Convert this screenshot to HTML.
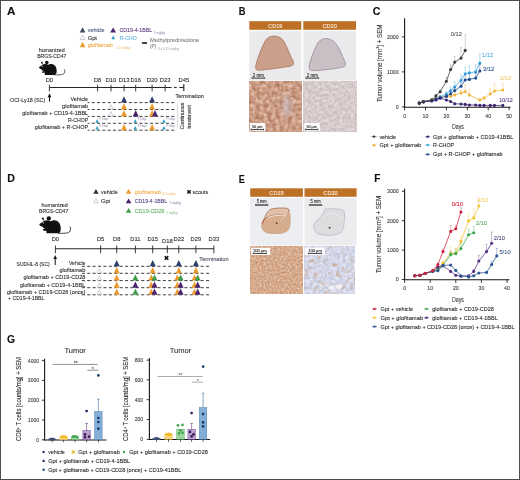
<!DOCTYPE html>
<html><head><meta charset="utf-8"><title>Figure</title>
<style>
html,body{margin:0;padding:0;background:#fff;}
body{width:520px;height:480px;overflow:hidden;}
#fig{position:absolute;left:0;top:0;width:520px;height:480px;box-sizing:border-box;border:1px solid #4d4d4d;}
svg{position:absolute;left:0;top:0;}
svg text{font-family:'Liberation Sans', Arial, sans-serif;stroke:currentColor;stroke-width:0.1px;}
</style></head><body>
<div id="fig"></div>
<svg width="520" height="480" viewBox="0 0 520 480">
<defs><filter id="n1" x="0" y="0" width="1" height="1" color-interpolation-filters="sRGB"><feTurbulence type="fractalNoise" baseFrequency="0.25" numOctaves="3" seed="3"/><feColorMatrix type="matrix" values="0.3765 0 0 0 0.6039  0.4941 0 0 0 0.3647  0.5412 0 0 0 0.2471  0 0 0 0 1"/></filter><filter id="n2" x="0" y="0" width="1" height="1" color-interpolation-filters="sRGB"><feTurbulence type="fractalNoise" baseFrequency="0.35" numOctaves="3" seed="5"/><feColorMatrix type="matrix" values="0.2345 0 0 0 0.7259  0.2549 0 0 0 0.6686  0.2345 0 0 0 0.6788  0 0 0 0 1"/></filter><filter id="n3" x="0" y="0" width="1" height="1" color-interpolation-filters="sRGB"><feTurbulence type="fractalNoise" baseFrequency="0.5" numOctaves="3" seed="7"/><feColorMatrix type="matrix" values="0.2635 0 0 0 0.7075  0.4141 0 0 0 0.4596  0.4706 0 0 0 0.3137  0 0 0 0 1"/></filter><filter id="n4" x="0" y="0" width="1" height="1" color-interpolation-filters="sRGB"><feTurbulence type="fractalNoise" baseFrequency="0.3" numOctaves="3" seed="9" result="t1"/><feColorMatrix in="t1" type="matrix" values="0.2416 0 0 0 0.7106  0.2525 0 0 0 0.7169  0.2306 0 0 0 0.7906  0 0 0 0 1" result="base"/><feTurbulence type="fractalNoise" baseFrequency="0.22" numOctaves="2" seed="21" result="t2"/><feColorMatrix in="t2" type="matrix" values="0 0 0 0 0.8000  0 0 0 0 0.6275  0 0 0 0 0.5020  3.2000 0 0 0 -1.8560" result="spots"/><feComposite in="spots" in2="base" operator="over"/></filter><filter id="b2" x="-0.5" y="-0.5" width="2" height="2"><feGaussianBlur stdDeviation="2"/></filter></defs>
<text x="6.9" y="14.9" font-size="11.4" fill="#111" color="#111" textLength="8.4" lengthAdjust="spacingAndGlyphs" font-weight="bold">A</text>
<text x="238.7" y="14.9" font-size="11.4" fill="#111" color="#111" textLength="6.7" lengthAdjust="spacingAndGlyphs" font-weight="bold">B</text>
<text x="372.7" y="14.7" font-size="11.4" fill="#111" color="#111" textLength="7.7" lengthAdjust="spacingAndGlyphs" font-weight="bold">C</text>
<text x="7.3" y="182.4" font-size="11.4" fill="#111" color="#111" textLength="7.7" lengthAdjust="spacingAndGlyphs" font-weight="bold">D</text>
<text x="238.7" y="182.6" font-size="11.4" fill="#111" color="#111" textLength="6.1" lengthAdjust="spacingAndGlyphs" font-weight="bold">E</text>
<text x="374.2" y="182.4" font-size="11.4" fill="#111" color="#111" textLength="6.2" lengthAdjust="spacingAndGlyphs" font-weight="bold">F</text>
<text x="7.1" y="342.5" font-size="11.4" fill="#111" color="#111" textLength="8.1" lengthAdjust="spacingAndGlyphs" font-weight="bold">G</text>
<polygon points="79.8,32.6 85.4,32.6 82.6,27.2" fill="#3b4760"/>
<text x="87.7" y="32.19" font-size="5.8" fill="#4a5678" color="#4a5678" textLength="16.9" lengthAdjust="spacingAndGlyphs">vehicle</text>
<polygon points="80.2,39.5 85,39.5 82.6,35.1" fill="#fff" stroke="#9aa0a8" stroke-width="0.5" stroke-linejoin="round"/>
<text x="87.7" y="39.79" font-size="5.8" fill="#2e2e2e" color="#2e2e2e" textLength="9.2" lengthAdjust="spacingAndGlyphs">Gpt</text>
<polygon points="79.8,47.2 85.4,47.2 82.6,41.7" fill="#eb9b2d"/>
<text x="87.7" y="47.19" font-size="5.8" fill="#f2aa48" color="#f2aa48" textLength="25.2" lengthAdjust="spacingAndGlyphs">glofitamab</text>
<text x="116.2" y="49.4" font-size="2.6" fill="#f6cc96" color="#f6cc96" textLength="14" lengthAdjust="spacingAndGlyphs">1.5 mg/kg</text>
<polygon points="110.2,32.4 116,32.4 113.1,27.5" fill="#4b2270"/>
<text x="119.4" y="32.19" font-size="5.8" fill="#5a4084" color="#5a4084" textLength="32.9" lengthAdjust="spacingAndGlyphs">CD19-4-1BBL</text>
<text x="154.1" y="33.6" font-size="2.6" fill="#b0a4c0" color="#b0a4c0" textLength="10.8" lengthAdjust="spacingAndGlyphs">1 mg/kg</text>
<polygon points="111.3,39.3 115.1,39.3 113.2,35.6" fill="#2b9dc6"/>
<text x="119.8" y="39.79" font-size="5.8" fill="#62b6e0" color="#62b6e0" textLength="16.9" lengthAdjust="spacingAndGlyphs">R-CHO</text>
<rect x="141.9" y="41.9" width="5.2" height="2" fill="#444" rx="0.6"/>
<text x="150.1" y="41.99" font-size="5.8" fill="#858585" color="#858585" textLength="49.1" lengthAdjust="spacingAndGlyphs">Methylprednisolone</text>
<text x="150" y="47.99" font-size="5.8" fill="#858585" color="#858585" textLength="6.4" lengthAdjust="spacingAndGlyphs">(P)</text>
<text x="158" y="50" font-size="2.6" fill="#bdbdbd" color="#bdbdbd" textLength="21" lengthAdjust="spacingAndGlyphs">3 x 0.15 mg/kg</text>
<text x="38.7" y="52.29" font-size="5.8" fill="#2e2e2e" color="#2e2e2e" textLength="26.1" lengthAdjust="spacingAndGlyphs">humanized</text>
<text x="37.2" y="58.29" font-size="5.8" fill="#2e2e2e" color="#2e2e2e" textLength="29.1" lengthAdjust="spacingAndGlyphs">BRGS-CD47</text>
<g fill="#111" transform="translate(38.7 61.3) scale(1) translate(-38.7 -61.3)"><path d="M45.0,74.9 C44.0,70.5 45.6,65.0 50.4,64.1 C54.8,63.4 56.9,67.6 56.7,71.2 C56.6,73.4 55.9,74.9 54.2,74.9 Z"/><path d="M48.4,64.8 C46.2,63.3 43.2,64.1 41.6,65.5 C40.6,66.3 39.1,66.8 39.0,67.6 C38.9,68.5 40.3,69.1 41.3,69.3 C42.3,70.7 44.0,71.9 46.6,71.7 C47.8,70.2 48.8,67.4 48.4,64.8 Z"/><circle cx="46.8" cy="62.5" r="1.8"/><circle cx="41.9" cy="62.7" r="0.85"/><path d="M41.9,62.8 L43.6,65.6" stroke="#111" stroke-width="0.6" fill="none"/><ellipse cx="43.6" cy="72.0" rx="1.7" ry="0.85"/><path d="M54.5,74.8 C58.5,75.0 62.4,74.9 63.8,73.8 C64.8,72.9 64.9,70.8 64.5,69.3" stroke="#111" stroke-width="0.65" fill="none"/><circle cx="42.3" cy="66.3" r="0.5" fill="#fff"/></g>
<line x1="49.4" y1="87.5" x2="171.6" y2="87.5" stroke="#262626" stroke-width="1.1"/>
<line x1="49.4" y1="84.7" x2="49.4" y2="91.4" stroke="#262626" stroke-width="0.9"/>
<text x="49.4" y="82.39" font-size="5.8" fill="#2e2e2e" color="#2e2e2e" text-anchor="middle">D0</text>
<line x1="97.6" y1="84.7" x2="97.6" y2="91.4" stroke="#262626" stroke-width="0.9"/>
<text x="97.6" y="82.39" font-size="5.8" fill="#2e2e2e" color="#2e2e2e" text-anchor="middle">D8</text>
<line x1="111" y1="84.7" x2="111" y2="91.4" stroke="#262626" stroke-width="0.9"/>
<text x="111" y="82.39" font-size="5.8" fill="#2e2e2e" color="#2e2e2e" text-anchor="middle">D10</text>
<line x1="124.1" y1="84.7" x2="124.1" y2="91.4" stroke="#262626" stroke-width="0.9"/>
<text x="124.1" y="82.39" font-size="5.8" fill="#2e2e2e" color="#2e2e2e" text-anchor="middle">D13</text>
<line x1="135.7" y1="84.7" x2="135.7" y2="91.4" stroke="#262626" stroke-width="0.9"/>
<text x="135.7" y="82.39" font-size="5.8" fill="#2e2e2e" color="#2e2e2e" text-anchor="middle">D16</text>
<line x1="152.1" y1="84.7" x2="152.1" y2="91.4" stroke="#262626" stroke-width="0.9"/>
<text x="152.1" y="82.39" font-size="5.8" fill="#2e2e2e" color="#2e2e2e" text-anchor="middle">D20</text>
<line x1="165.1" y1="84.7" x2="165.1" y2="91.4" stroke="#262626" stroke-width="0.9"/>
<text x="165.1" y="82.39" font-size="5.8" fill="#2e2e2e" color="#2e2e2e" text-anchor="middle">D23</text>
<line x1="174.1" y1="87.5" x2="176.7" y2="87.5" stroke="#262626" stroke-width="1.1"/>
<line x1="179.3" y1="87.5" x2="183.6" y2="87.5" stroke="#262626" stroke-width="1.1"/>
<line x1="183.8" y1="84.3" x2="183.8" y2="91" stroke="#262626" stroke-width="1.2"/>
<text x="183.8" y="82.39" font-size="5.8" fill="#2e2e2e" color="#2e2e2e" text-anchor="middle">D45</text>
<text x="175.5" y="97.79" font-size="5.8" fill="#2e2e2e" color="#2e2e2e" textLength="28.2" lengthAdjust="spacingAndGlyphs">Termination</text>
<line x1="49.5" y1="96" x2="49.5" y2="101.6" stroke="#111" stroke-width="1"/>
<polygon points="47.7,97.2 51.3,97.2 49.5,93.2" fill="#111"/>
<text x="10" y="101.79" font-size="5.8" fill="#2e2e2e" color="#2e2e2e" textLength="35.2" lengthAdjust="spacingAndGlyphs">OCI-Ly18 (SC)</text>
<text x="88.2" y="101.49" font-size="5.8" fill="#2e2e2e" color="#2e2e2e" text-anchor="end" textLength="17.8" lengthAdjust="spacingAndGlyphs">Vehicle</text>
<line x1="87.6" y1="102.6" x2="176.3" y2="102.6" stroke="#3a3a3a" stroke-width="0.95" stroke-dasharray="3.1 2.2" stroke-dashoffset="1.2"/>
<text x="88.2" y="108.39" font-size="5.8" fill="#2e2e2e" color="#2e2e2e" text-anchor="end" textLength="26.1" lengthAdjust="spacingAndGlyphs">glofitamab</text>
<line x1="87.6" y1="109.5" x2="176.3" y2="109.5" stroke="#3a3a3a" stroke-width="0.95" stroke-dasharray="3.1 2.2" stroke-dashoffset="1.2"/>
<text x="88.2" y="115.29" font-size="5.8" fill="#2e2e2e" color="#2e2e2e" text-anchor="end" textLength="65.9" lengthAdjust="spacingAndGlyphs">glofitamab + CD19-4-1BBL</text>
<line x1="87.6" y1="116.4" x2="176.3" y2="116.4" stroke="#3a3a3a" stroke-width="0.95" stroke-dasharray="3.1 2.2" stroke-dashoffset="1.2"/>
<text x="88.2" y="122.19" font-size="5.8" fill="#2e2e2e" color="#2e2e2e" text-anchor="end" textLength="20.3" lengthAdjust="spacingAndGlyphs">R-CHOP</text>
<line x1="87.6" y1="123.3" x2="176.3" y2="123.3" stroke="#3a3a3a" stroke-width="0.95" stroke-dasharray="3.1 2.2" stroke-dashoffset="1.2"/>
<text x="88.2" y="129.09" font-size="5.8" fill="#2e2e2e" color="#2e2e2e" text-anchor="end" textLength="53.4" lengthAdjust="spacingAndGlyphs">glofitamab + R-CHOP</text>
<line x1="87.6" y1="130.2" x2="176.3" y2="130.2" stroke="#3a3a3a" stroke-width="0.95" stroke-dasharray="3.1 2.2" stroke-dashoffset="1.2"/>
<line x1="177.6" y1="102.8" x2="177.6" y2="129" stroke="#bbb" stroke-width="0.5"/>
<text x="184" y="116" font-size="5.8" fill="#2e2e2e" color="#2e2e2e" text-anchor="middle" textLength="27" lengthAdjust="spacingAndGlyphs" transform="rotate(-90 184 116)">Continuous</text>
<text x="190.7" y="117" font-size="5.8" fill="#2e2e2e" color="#2e2e2e" text-anchor="middle" textLength="23.7" lengthAdjust="spacingAndGlyphs" transform="rotate(-90 190.7 117)">treatment</text>
<polygon points="121,102.6 127,102.6 124,96.3" fill="#2f3e6a"/>
<polygon points="149.1,102.6 155.1,102.6 152.1,96.3" fill="#2f3e6a"/>
<polygon points="108.6,109.1 113,109.1 110.8,104.7" fill="#fff" stroke="#9aa0a8" stroke-width="0.5" stroke-linejoin="round"/>
<polygon points="121,109.5 127,109.5 124,103.2" fill="#eb9b2d"/>
<polygon points="149.1,109.5 155.1,109.5 152.1,103.2" fill="#eb9b2d"/>
<polygon points="108.6,116 113,116 110.8,111.6" fill="#fff" stroke="#9aa0a8" stroke-width="0.5" stroke-linejoin="round"/>
<polygon points="121,116.4 127,116.4 124,110.1" fill="#eb9b2d"/>
<polygon points="132.7,116.4 138.7,116.4 135.7,110.1" fill="#4b2270"/>
<polygon points="149.1,116.4 155.1,116.4 152.1,110.1" fill="#eb9b2d"/>
<polygon points="152,116.4 158,116.4 155,110.1" fill="#4b2270"/>
<polygon points="95.3,122.7 98.9,122.7 97.1,119.2" fill="#2b9dc6"/>
<text x="99.6" y="119.7" font-size="3.2" fill="#a9a2b8" color="#a9a2b8" textLength="8.6" lengthAdjust="spacingAndGlyphs">P 3 days</text>
<polygon points="133.5,122.7 137.1,122.7 135.3,119.2" fill="#2b9dc6"/>
<text x="137.8" y="119.7" font-size="3.2" fill="#a9a2b8" color="#a9a2b8" textLength="8.6" lengthAdjust="spacingAndGlyphs">P 3 days</text>
<polygon points="162.1,122.7 165.7,122.7 163.9,119.2" fill="#2b9dc6"/>
<text x="166.4" y="119.7" font-size="3.2" fill="#a9a2b8" color="#a9a2b8" textLength="8.6" lengthAdjust="spacingAndGlyphs">P 3 days</text>
<polygon points="95.3,129.6 98.9,129.6 97.1,126.1" fill="#2b9dc6"/>
<text x="99.6" y="126.6" font-size="3.2" fill="#a9a2b8" color="#a9a2b8" textLength="8.6" lengthAdjust="spacingAndGlyphs">P 3 days</text>
<polygon points="121,130.2 127,130.2 124,123.9" fill="#eb9b2d"/>
<polygon points="133.5,129.6 137.1,129.6 135.3,126.1" fill="#2b9dc6"/>
<text x="137.8" y="126.6" font-size="3.2" fill="#a9a2b8" color="#a9a2b8" textLength="8.6" lengthAdjust="spacingAndGlyphs">P 3 days</text>
<polygon points="149.1,130.2 155.1,130.2 152.1,123.9" fill="#eb9b2d"/>
<polygon points="162.1,129.6 165.7,129.6 163.9,126.1" fill="#2b9dc6"/>
<text x="166.4" y="126.6" font-size="3.2" fill="#a9a2b8" color="#a9a2b8" textLength="8.6" lengthAdjust="spacingAndGlyphs">P 3 days</text>
<rect x="249.3" y="21.2" width="52" height="8.6" fill="#bd7126"/>
<text x="275.3" y="27.76" font-size="6" fill="#fbecd8" color="#fbecd8" text-anchor="middle" textLength="14.4" lengthAdjust="spacingAndGlyphs">CD19</text>
<rect x="303.3" y="21.2" width="52.7" height="8.6" fill="#bd7126"/>
<text x="329.65" y="27.76" font-size="6" fill="#fbecd8" color="#fbecd8" text-anchor="middle" textLength="14.4" lengthAdjust="spacingAndGlyphs">CD20</text>
<rect x="249.3" y="31.2" width="52" height="49.4" fill="#eaeaed"/>
<rect x="303.3" y="31.2" width="52.7" height="49.4" fill="#eaeaed"/>
<path d="M272.5,36.2 C276.5,35.6 280.5,37.0 283.0,40.2 C285.6,43.6 287.6,49.0 289.6,54.0 C291.0,57.6 293.4,60.6 293.6,63.0 C293.8,65.0 292.0,65.8 289.0,66.4 C282.0,67.6 274.0,68.6 266.0,69.6 C261.0,70.2 257.0,70.8 256.0,69.2 C255.0,67.4 256.4,62.4 258.2,57.4 C260.0,52.2 262.6,45.6 265.4,40.6 C267.2,37.8 269.6,36.6 272.5,36.2 Z" fill="#caa08a" stroke="#aa7e68" stroke-width="0.9"/>
<path d="M325.5,38.6 C329.5,38.4 333.6,40.6 336.4,44.4 C339.0,48.0 341.0,52.4 342.6,56.6 C343.8,59.6 345.6,62.2 345.4,64.6 C345.2,66.4 343.4,67.0 340.6,67.6 C334.0,68.8 326.0,69.8 318.0,70.4 C313.6,70.8 310.0,70.8 309.4,69.0 C308.8,66.8 309.8,62.4 311.4,58.0 C313.2,53.0 315.4,46.6 318.6,42.0 C320.4,39.8 322.8,38.8 325.5,38.6 Z" fill="#c9c0c5" stroke="#9d9097" stroke-width="0.9"/>
<rect x="249.3" y="81.3" width="52.6" height="50.6" fill="#c89c84" filter="url(#n1)"/>
<rect x="303.5" y="81.3" width="53" height="50.6" fill="#d4c7c6" filter="url(#n2)"/>
<ellipse cx="287" cy="106" rx="5" ry="11" fill="#c9c4cc" opacity="0.55" filter="url(#b2)"/>
<text x="258.3" y="76.6" font-size="4.8" fill="#222" color="#222" text-anchor="middle" textLength="11" lengthAdjust="spacingAndGlyphs">2 mm</text>
<line x1="252" y1="78.1" x2="264.6" y2="78.1" stroke="#222" stroke-width="0.9"/>
<line x1="252" y1="77" x2="252" y2="79" stroke="#222" stroke-width="0.6"/>
<line x1="264.6" y1="77" x2="264.6" y2="79" stroke="#222" stroke-width="0.6"/>
<text x="312.3" y="76.6" font-size="4.8" fill="#222" color="#222" text-anchor="middle" textLength="11" lengthAdjust="spacingAndGlyphs">2 mm</text>
<line x1="306" y1="78.1" x2="318.6" y2="78.1" stroke="#222" stroke-width="0.9"/>
<line x1="306" y1="77" x2="306" y2="79" stroke="#222" stroke-width="0.6"/>
<line x1="318.6" y1="77" x2="318.6" y2="79" stroke="#222" stroke-width="0.6"/>
<rect x="249.8" y="123" width="15.6" height="8.2" fill="#fff" fill-opacity="0.95"/>
<text x="257.25" y="128.1" font-size="4.4" fill="#222" color="#222" text-anchor="middle" textLength="10.5" lengthAdjust="spacingAndGlyphs">50 µm</text>
<line x1="251" y1="129.6" x2="263.5" y2="129.6" stroke="#222" stroke-width="0.9"/>
<line x1="251" y1="128.5" x2="251" y2="130.5" stroke="#222" stroke-width="0.6"/>
<line x1="263.5" y1="128.5" x2="263.5" y2="130.5" stroke="#222" stroke-width="0.6"/>
<rect x="304.2" y="123" width="15.6" height="8.2" fill="#fff" fill-opacity="0.95"/>
<text x="311.65" y="128.1" font-size="4.4" fill="#222" color="#222" text-anchor="middle" textLength="10.5" lengthAdjust="spacingAndGlyphs">50 µm</text>
<line x1="305.4" y1="129.6" x2="317.9" y2="129.6" stroke="#222" stroke-width="0.9"/>
<line x1="305.4" y1="128.5" x2="305.4" y2="130.5" stroke="#222" stroke-width="0.6"/>
<line x1="317.9" y1="128.5" x2="317.9" y2="130.5" stroke="#222" stroke-width="0.6"/>
<rect x="250.2" y="188.3" width="52.7" height="8.5" fill="#bd7126"/>
<text x="276.55" y="194.81" font-size="6" fill="#fbecd8" color="#fbecd8" text-anchor="middle" textLength="14.4" lengthAdjust="spacingAndGlyphs">CD19</text>
<rect x="304.5" y="188.3" width="52.1" height="8.5" fill="#bd7126"/>
<text x="330.55" y="194.81" font-size="6" fill="#fbecd8" color="#fbecd8" text-anchor="middle" textLength="14.4" lengthAdjust="spacingAndGlyphs">CD20</text>
<rect x="250.2" y="198" width="52.7" height="47.4" fill="#edeef1"/>
<rect x="304.5" y="198" width="52.1" height="47.4" fill="#ececef"/>
<path d="M270.4,209.2 C276,208.2 283,208.0 287.4,208.4 C289.4,209.4 289.4,211 288.9,212.3 C290.2,215 290.6,218 290.1,220 C290.4,222.5 290.2,224.5 289.7,226.1 C289.4,228.2 288.6,229.8 287.4,230.8 C284.6,232.8 281.4,233.4 278.1,233.5 C274,233.6 270,233.4 266.6,232.7 C264.6,232.0 263,230.4 262.3,228.4 C261.6,227.0 261.3,225.8 261.6,224.6 C262.0,222.0 263.2,220.0 264.3,218.4 C265.2,217.0 266.2,216.0 267.3,215.3 C268.2,213.6 268.8,212.0 269.6,210.7 Z" fill="#d6ae8e" stroke="#c09070" stroke-width="0.6"/>
<path d="M264.6,218.6 C265.6,213.6 268.2,210.2 272.2,208.8 C277.2,207.8 283.2,207.8 287.4,208.4 C289.2,209.0 289.6,210.8 288.6,212.4 C286.6,214.6 283.2,215.0 279.6,214.8 C275.2,214.6 270.6,215.4 267.6,217.4 Z" fill="#dfc0aa" stroke="#a86a50" stroke-width="0.7"/>
<path d="M267.8,218.0 C271.5,215.6 276,215.4 280.5,215.4 C283.5,215.3 285.8,214.6 287.6,213.2" stroke="#f4e6dc" stroke-width="1.0" fill="none"/>
<path d="M285.6,215.0 C284.4,217.2 282.6,219.0 280.6,220.4" stroke="#ecd8c8" stroke-width="0.9" fill="none"/>
<path d="M262.4,223.6 C262.8,221.4 263.6,219.8 264.8,218.8" stroke="#b8705a" stroke-width="1.4" fill="none"/>
<circle cx="276.6" cy="223.2" r="0.9" fill="#6a3a28"/>
<path d="M325,209.2 C330,208.6 336,208.6 340.4,209.2 C342.6,209.8 344.2,210.6 344.2,211.5 C344.8,215 344.8,219 344.2,222.3 C344.0,226.5 342.8,230 341.1,232.3 C337.5,234.6 333.5,235.4 329.6,235.4 C325.5,235.4 321.5,234.8 318,233.8 C315.6,232.5 314.2,230.2 313.8,227.7 C313.6,226.4 313.8,225.0 314.2,223.8 C315.4,221.6 317.4,219.8 319.6,218.4 C321.2,216.8 322.4,214.8 323.4,213 Z" fill="#dedcdf" stroke="#b8b3b9" stroke-width="0.7"/>
<path d="M322.0,217.0 C326.0,213.6 332.0,213.2 336.2,214.4 C339.2,215.4 341.0,217.4 342.4,220.4" stroke="#ebe9ec" stroke-width="1.0" fill="none"/>
<circle cx="329.6" cy="227.8" r="1" fill="#444"/>
<rect x="250.2" y="246.4" width="52.4" height="47.6" fill="#c99878" filter="url(#n3)"/>
<rect x="304.2" y="246.4" width="50.8" height="47.6" fill="#c9cad6" filter="url(#n4)"/>
<ellipse cx="331.5" cy="287.6" rx="2.9" ry="2.1" fill="#f4f4f7" opacity="0.9"/>
<ellipse cx="339.2" cy="286.5" rx="3.3" ry="2.3" fill="#f4f4f7" opacity="0.9"/>
<text x="261.7" y="203" font-size="4.6" fill="#222" color="#222" text-anchor="middle" textLength="10" lengthAdjust="spacingAndGlyphs">5 mm</text>
<line x1="255.6" y1="205" x2="267.8" y2="205" stroke="#222" stroke-width="1.2"/>
<line x1="255.6" y1="203.9" x2="255.6" y2="205.9" stroke="#222" stroke-width="0.6"/>
<line x1="267.8" y1="203.9" x2="267.8" y2="205.9" stroke="#222" stroke-width="0.6"/>
<text x="315.5" y="203" font-size="4.6" fill="#222" color="#222" text-anchor="middle" textLength="10" lengthAdjust="spacingAndGlyphs">5 mm</text>
<line x1="309.4" y1="205" x2="321.6" y2="205" stroke="#222" stroke-width="1.2"/>
<line x1="309.4" y1="203.9" x2="309.4" y2="205.9" stroke="#222" stroke-width="0.6"/>
<line x1="321.6" y1="203.9" x2="321.6" y2="205.9" stroke="#222" stroke-width="0.6"/>
<rect x="251" y="247.8" width="19.2" height="7.2" fill="#fff" fill-opacity="0.95"/>
<text x="259.8" y="251.9" font-size="4.4" fill="#222" color="#222" text-anchor="middle" textLength="13.6" lengthAdjust="spacingAndGlyphs">100 µm</text>
<line x1="253.2" y1="253.4" x2="266.4" y2="253.4" stroke="#222" stroke-width="0.9"/>
<line x1="253.2" y1="252.3" x2="253.2" y2="254.3" stroke="#222" stroke-width="0.6"/>
<line x1="266.4" y1="252.3" x2="266.4" y2="254.3" stroke="#222" stroke-width="0.6"/>
<rect x="304.6" y="247.6" width="20.2" height="7.4" fill="#fff" fill-opacity="0.95"/>
<text x="315" y="251.9" font-size="4.4" fill="#222" color="#222" text-anchor="middle" textLength="13.6" lengthAdjust="spacingAndGlyphs">100 µm</text>
<line x1="308.4" y1="253.4" x2="321.6" y2="253.4" stroke="#222" stroke-width="0.9"/>
<line x1="308.4" y1="252.3" x2="308.4" y2="254.3" stroke="#222" stroke-width="0.6"/>
<line x1="321.6" y1="252.3" x2="321.6" y2="254.3" stroke="#222" stroke-width="0.6"/>
<line x1="404.6" y1="18.2" x2="404.6" y2="107.7" stroke="#151515" stroke-width="1.1"/>
<line x1="404.1" y1="107.2" x2="510.6" y2="107.2" stroke="#151515" stroke-width="1.1"/>
<line x1="401.8" y1="106.9" x2="404.6" y2="106.9" stroke="#222" stroke-width="0.9"/>
<text x="398.6" y="108.84" font-size="5.4" fill="#3c3c3c" color="#3c3c3c" text-anchor="end" textLength="2.9" lengthAdjust="spacingAndGlyphs">0</text>
<line x1="401.8" y1="71.9" x2="404.6" y2="71.9" stroke="#222" stroke-width="0.9"/>
<text x="398.6" y="73.84" font-size="5.4" fill="#3c3c3c" color="#3c3c3c" text-anchor="end" textLength="11.6" lengthAdjust="spacingAndGlyphs">1000</text>
<line x1="401.8" y1="36.9" x2="404.6" y2="36.9" stroke="#222" stroke-width="0.9"/>
<text x="398.6" y="38.84" font-size="5.4" fill="#3c3c3c" color="#3c3c3c" text-anchor="end" textLength="11.6" lengthAdjust="spacingAndGlyphs">2000</text>
<line x1="404.6" y1="106.9" x2="404.6" y2="110.3" stroke="#222" stroke-width="0.9"/>
<text x="404.6" y="117.8" font-size="5.4" fill="#3c3c3c" color="#3c3c3c" text-anchor="middle" textLength="2.9" lengthAdjust="spacingAndGlyphs">0</text>
<line x1="425.5" y1="106.9" x2="425.5" y2="110.3" stroke="#222" stroke-width="0.9"/>
<text x="425.5" y="117.8" font-size="5.4" fill="#3c3c3c" color="#3c3c3c" text-anchor="middle" textLength="5.8" lengthAdjust="spacingAndGlyphs">10</text>
<line x1="446.4" y1="106.9" x2="446.4" y2="110.3" stroke="#222" stroke-width="0.9"/>
<text x="446.4" y="117.8" font-size="5.4" fill="#3c3c3c" color="#3c3c3c" text-anchor="middle" textLength="5.8" lengthAdjust="spacingAndGlyphs">20</text>
<line x1="467.3" y1="106.9" x2="467.3" y2="110.3" stroke="#222" stroke-width="0.9"/>
<text x="467.3" y="117.8" font-size="5.4" fill="#3c3c3c" color="#3c3c3c" text-anchor="middle" textLength="5.8" lengthAdjust="spacingAndGlyphs">30</text>
<line x1="488.2" y1="106.9" x2="488.2" y2="110.3" stroke="#222" stroke-width="0.9"/>
<text x="488.2" y="117.8" font-size="5.4" fill="#3c3c3c" color="#3c3c3c" text-anchor="middle" textLength="5.8" lengthAdjust="spacingAndGlyphs">40</text>
<line x1="509.1" y1="106.9" x2="509.1" y2="110.3" stroke="#222" stroke-width="0.9"/>
<text x="509.1" y="117.8" font-size="5.4" fill="#3c3c3c" color="#3c3c3c" text-anchor="middle" textLength="5.8" lengthAdjust="spacingAndGlyphs">50</text>
<text x="458" y="128.7" font-size="7.8" fill="#3c3c3c" color="#3c3c3c" text-anchor="middle" textLength="12" lengthAdjust="spacingAndGlyphs">Days</text>
<text x="381.6" y="63.3" font-size="7" fill="#2e2e2e" color="#2e2e2e" text-anchor="middle" textLength="77.6" lengthAdjust="spacingAndGlyphs" transform="rotate(-90 381.6 63.3)">Tumor volume [mm<tspan font-size="4.2" dy="-2.2">3</tspan><tspan dy="2.2">] + SEM</tspan></text>
<line x1="435.95" y1="98.15" x2="435.95" y2="97.45" stroke="#f2b53c" stroke-width="0.5" stroke-opacity="0.7"/>
<line x1="434.95" y1="97.45" x2="436.95" y2="97.45" stroke="#f2b53c" stroke-width="0.5" stroke-opacity="0.7"/>
<line x1="440.13" y1="96.89" x2="440.13" y2="95.84" stroke="#f2b53c" stroke-width="0.5" stroke-opacity="0.7"/>
<line x1="439.13" y1="95.84" x2="441.13" y2="95.84" stroke="#f2b53c" stroke-width="0.5" stroke-opacity="0.7"/>
<line x1="446.4" y1="96.4" x2="446.4" y2="95" stroke="#f2b53c" stroke-width="0.5" stroke-opacity="0.7"/>
<line x1="445.4" y1="95" x2="447.4" y2="95" stroke="#f2b53c" stroke-width="0.5" stroke-opacity="0.7"/>
<line x1="450.58" y1="96.26" x2="450.58" y2="94.16" stroke="#f2b53c" stroke-width="0.5" stroke-opacity="0.7"/>
<line x1="449.58" y1="94.16" x2="451.58" y2="94.16" stroke="#f2b53c" stroke-width="0.5" stroke-opacity="0.7"/>
<line x1="454.76" y1="95" x2="454.76" y2="92.9" stroke="#f2b53c" stroke-width="0.5" stroke-opacity="0.7"/>
<line x1="453.76" y1="92.9" x2="455.76" y2="92.9" stroke="#f2b53c" stroke-width="0.5" stroke-opacity="0.7"/>
<line x1="461.03" y1="93.11" x2="461.03" y2="90.31" stroke="#f2b53c" stroke-width="0.5" stroke-opacity="0.7"/>
<line x1="460.03" y1="90.31" x2="462.03" y2="90.31" stroke="#f2b53c" stroke-width="0.5" stroke-opacity="0.7"/>
<line x1="465.21" y1="91.5" x2="465.21" y2="84.85" stroke="#f2b53c" stroke-width="0.5" stroke-opacity="0.7"/>
<line x1="464.21" y1="84.85" x2="466.21" y2="84.85" stroke="#f2b53c" stroke-width="0.5" stroke-opacity="0.7"/>
<line x1="469.39" y1="95" x2="469.39" y2="88.7" stroke="#f2b53c" stroke-width="0.5" stroke-opacity="0.7"/>
<line x1="468.39" y1="88.7" x2="470.39" y2="88.7" stroke="#f2b53c" stroke-width="0.5" stroke-opacity="0.7"/>
<line x1="479.84" y1="100.01" x2="479.84" y2="98.61" stroke="#f2b53c" stroke-width="0.5" stroke-opacity="0.7"/>
<line x1="478.84" y1="98.61" x2="480.84" y2="98.61" stroke="#f2b53c" stroke-width="0.5" stroke-opacity="0.7"/>
<line x1="484.02" y1="98.12" x2="484.02" y2="96.72" stroke="#f2b53c" stroke-width="0.5" stroke-opacity="0.7"/>
<line x1="483.02" y1="96.72" x2="485.02" y2="96.72" stroke="#f2b53c" stroke-width="0.5" stroke-opacity="0.7"/>
<line x1="490.29" y1="93.98" x2="490.29" y2="88.73" stroke="#f2b53c" stroke-width="0.5" stroke-opacity="0.7"/>
<line x1="489.29" y1="88.73" x2="491.29" y2="88.73" stroke="#f2b53c" stroke-width="0.5" stroke-opacity="0.7"/>
<line x1="494.47" y1="91.01" x2="494.47" y2="83.66" stroke="#f2b53c" stroke-width="0.5" stroke-opacity="0.7"/>
<line x1="493.47" y1="83.66" x2="495.47" y2="83.66" stroke="#f2b53c" stroke-width="0.5" stroke-opacity="0.7"/>
<line x1="502.83" y1="90" x2="502.83" y2="83.34" stroke="#f2b53c" stroke-width="0.5" stroke-opacity="0.7"/>
<line x1="501.83" y1="83.34" x2="503.83" y2="83.34" stroke="#f2b53c" stroke-width="0.5" stroke-opacity="0.7"/>
<polyline points="419.23,103.12 423.41,101.65 431.77,99.9 435.95,98.15 440.13,96.89 446.4,96.4 450.58,96.26 454.76,95 461.03,93.11 465.21,91.5 469.39,95 479.84,100.01 484.02,98.12 490.29,93.98 494.47,91.01 502.83,90" fill="none" stroke="#f2b53c" stroke-width="0.75"/>
<circle cx="419.23" cy="103.12" r="1.55" fill="#f2b53c"/>
<circle cx="423.41" cy="101.65" r="1.55" fill="#f2b53c"/>
<circle cx="431.77" cy="99.9" r="1.55" fill="#f2b53c"/>
<circle cx="435.95" cy="98.15" r="1.55" fill="#f2b53c"/>
<circle cx="440.13" cy="96.89" r="1.55" fill="#f2b53c"/>
<circle cx="446.4" cy="96.4" r="1.55" fill="#f2b53c"/>
<circle cx="450.58" cy="96.26" r="1.55" fill="#f2b53c"/>
<circle cx="454.76" cy="95" r="1.55" fill="#f2b53c"/>
<circle cx="461.03" cy="93.11" r="1.55" fill="#f2b53c"/>
<circle cx="465.21" cy="91.5" r="1.55" fill="#f2b53c"/>
<circle cx="469.39" cy="95" r="1.55" fill="#f2b53c"/>
<circle cx="479.84" cy="100.01" r="1.55" fill="#f2b53c"/>
<circle cx="484.02" cy="98.12" r="1.55" fill="#f2b53c"/>
<circle cx="490.29" cy="93.98" r="1.55" fill="#f2b53c"/>
<circle cx="494.47" cy="91.01" r="1.55" fill="#f2b53c"/>
<circle cx="502.83" cy="90" r="1.55" fill="#f2b53c"/>
<line x1="435.95" y1="98.85" x2="435.95" y2="97.8" stroke="#3aa5dd" stroke-width="0.5" stroke-opacity="0.7"/>
<line x1="434.95" y1="97.8" x2="436.95" y2="97.8" stroke="#3aa5dd" stroke-width="0.5" stroke-opacity="0.7"/>
<line x1="440.13" y1="97.1" x2="440.13" y2="95.35" stroke="#3aa5dd" stroke-width="0.5" stroke-opacity="0.7"/>
<line x1="439.13" y1="95.35" x2="441.13" y2="95.35" stroke="#3aa5dd" stroke-width="0.5" stroke-opacity="0.7"/>
<line x1="446.4" y1="93.98" x2="446.4" y2="91.53" stroke="#3aa5dd" stroke-width="0.5" stroke-opacity="0.7"/>
<line x1="445.4" y1="91.53" x2="447.4" y2="91.53" stroke="#3aa5dd" stroke-width="0.5" stroke-opacity="0.7"/>
<line x1="450.58" y1="90.59" x2="450.58" y2="87.09" stroke="#3aa5dd" stroke-width="0.5" stroke-opacity="0.7"/>
<line x1="449.58" y1="87.09" x2="451.58" y2="87.09" stroke="#3aa5dd" stroke-width="0.5" stroke-opacity="0.7"/>
<line x1="454.76" y1="86.92" x2="454.76" y2="82.37" stroke="#3aa5dd" stroke-width="0.5" stroke-opacity="0.7"/>
<line x1="453.76" y1="82.37" x2="455.76" y2="82.37" stroke="#3aa5dd" stroke-width="0.5" stroke-opacity="0.7"/>
<line x1="461.03" y1="80.27" x2="461.03" y2="75.02" stroke="#3aa5dd" stroke-width="0.5" stroke-opacity="0.7"/>
<line x1="460.03" y1="75.02" x2="462.03" y2="75.02" stroke="#3aa5dd" stroke-width="0.5" stroke-opacity="0.7"/>
<line x1="465.21" y1="73.75" x2="465.21" y2="67.45" stroke="#3aa5dd" stroke-width="0.5" stroke-opacity="0.7"/>
<line x1="464.21" y1="67.45" x2="466.21" y2="67.45" stroke="#3aa5dd" stroke-width="0.5" stroke-opacity="0.7"/>
<line x1="469.39" y1="72.74" x2="469.39" y2="65.74" stroke="#3aa5dd" stroke-width="0.5" stroke-opacity="0.7"/>
<line x1="468.39" y1="65.74" x2="470.39" y2="65.74" stroke="#3aa5dd" stroke-width="0.5" stroke-opacity="0.7"/>
<line x1="475.66" y1="71.9" x2="475.66" y2="64.9" stroke="#3aa5dd" stroke-width="0.5" stroke-opacity="0.7"/>
<line x1="474.66" y1="64.9" x2="476.66" y2="64.9" stroke="#3aa5dd" stroke-width="0.5" stroke-opacity="0.7"/>
<line x1="479.84" y1="63.12" x2="479.84" y2="54.02" stroke="#3aa5dd" stroke-width="0.5" stroke-opacity="0.7"/>
<line x1="478.84" y1="54.02" x2="480.84" y2="54.02" stroke="#3aa5dd" stroke-width="0.5" stroke-opacity="0.7"/>
<polyline points="419.23,103.12 423.41,101.65 431.77,100.43 435.95,98.85 440.13,97.1 446.4,93.98 450.58,90.59 454.76,86.92 461.03,80.27 465.21,73.75 469.39,72.74 475.66,71.9 479.84,63.12" fill="none" stroke="#3aa5dd" stroke-width="0.75"/>
<circle cx="419.23" cy="103.12" r="1.55" fill="#3aa5dd"/>
<circle cx="423.41" cy="101.65" r="1.55" fill="#3aa5dd"/>
<circle cx="431.77" cy="100.43" r="1.55" fill="#3aa5dd"/>
<circle cx="435.95" cy="98.85" r="1.55" fill="#3aa5dd"/>
<circle cx="440.13" cy="97.1" r="1.55" fill="#3aa5dd"/>
<circle cx="446.4" cy="93.98" r="1.55" fill="#3aa5dd"/>
<circle cx="450.58" cy="90.59" r="1.55" fill="#3aa5dd"/>
<circle cx="454.76" cy="86.92" r="1.55" fill="#3aa5dd"/>
<circle cx="461.03" cy="80.27" r="1.55" fill="#3aa5dd"/>
<circle cx="465.21" cy="73.75" r="1.55" fill="#3aa5dd"/>
<circle cx="469.39" cy="72.74" r="1.55" fill="#3aa5dd"/>
<circle cx="475.66" cy="71.9" r="1.55" fill="#3aa5dd"/>
<circle cx="479.84" cy="63.12" r="1.55" fill="#3aa5dd"/>
<line x1="435.95" y1="99.38" x2="435.95" y2="98.67" stroke="#1d4b8c" stroke-width="0.5" stroke-opacity="0.7"/>
<line x1="434.95" y1="98.67" x2="436.95" y2="98.67" stroke="#1d4b8c" stroke-width="0.5" stroke-opacity="0.7"/>
<line x1="440.13" y1="97.98" x2="440.13" y2="96.58" stroke="#1d4b8c" stroke-width="0.5" stroke-opacity="0.7"/>
<line x1="439.13" y1="96.58" x2="441.13" y2="96.58" stroke="#1d4b8c" stroke-width="0.5" stroke-opacity="0.7"/>
<line x1="446.4" y1="96.4" x2="446.4" y2="94.65" stroke="#1d4b8c" stroke-width="0.5" stroke-opacity="0.7"/>
<line x1="445.4" y1="94.65" x2="447.4" y2="94.65" stroke="#1d4b8c" stroke-width="0.5" stroke-opacity="0.7"/>
<line x1="450.58" y1="93.74" x2="450.58" y2="91.64" stroke="#1d4b8c" stroke-width="0.5" stroke-opacity="0.7"/>
<line x1="449.58" y1="91.64" x2="451.58" y2="91.64" stroke="#1d4b8c" stroke-width="0.5" stroke-opacity="0.7"/>
<line x1="454.76" y1="90.59" x2="454.76" y2="87.44" stroke="#1d4b8c" stroke-width="0.5" stroke-opacity="0.7"/>
<line x1="453.76" y1="87.44" x2="455.76" y2="87.44" stroke="#1d4b8c" stroke-width="0.5" stroke-opacity="0.7"/>
<line x1="461.03" y1="86.25" x2="461.03" y2="82.4" stroke="#1d4b8c" stroke-width="0.5" stroke-opacity="0.7"/>
<line x1="460.03" y1="82.4" x2="462.03" y2="82.4" stroke="#1d4b8c" stroke-width="0.5" stroke-opacity="0.7"/>
<line x1="465.21" y1="79.98" x2="465.21" y2="74.73" stroke="#1d4b8c" stroke-width="0.5" stroke-opacity="0.7"/>
<line x1="464.21" y1="74.73" x2="466.21" y2="74.73" stroke="#1d4b8c" stroke-width="0.5" stroke-opacity="0.7"/>
<line x1="469.39" y1="79.39" x2="469.39" y2="73.79" stroke="#1d4b8c" stroke-width="0.5" stroke-opacity="0.7"/>
<line x1="468.39" y1="73.79" x2="470.39" y2="73.79" stroke="#1d4b8c" stroke-width="0.5" stroke-opacity="0.7"/>
<line x1="475.66" y1="78.09" x2="475.66" y2="72.84" stroke="#1d4b8c" stroke-width="0.5" stroke-opacity="0.7"/>
<line x1="474.66" y1="72.84" x2="476.66" y2="72.84" stroke="#1d4b8c" stroke-width="0.5" stroke-opacity="0.7"/>
<line x1="479.84" y1="70.99" x2="479.84" y2="63.99" stroke="#1d4b8c" stroke-width="0.5" stroke-opacity="0.7"/>
<line x1="478.84" y1="63.99" x2="480.84" y2="63.99" stroke="#1d4b8c" stroke-width="0.5" stroke-opacity="0.7"/>
<polyline points="419.23,103.12 423.41,102 431.77,100.78 435.95,99.38 440.13,97.98 446.4,96.4 450.58,93.74 454.76,90.59 461.03,86.25 465.21,79.98 469.39,79.39 475.66,78.09 479.84,70.99" fill="none" stroke="#1d4b8c" stroke-width="0.75"/>
<circle cx="419.23" cy="103.12" r="1.55" fill="#1d4b8c"/>
<circle cx="423.41" cy="102" r="1.55" fill="#1d4b8c"/>
<circle cx="431.77" cy="100.78" r="1.55" fill="#1d4b8c"/>
<circle cx="435.95" cy="99.38" r="1.55" fill="#1d4b8c"/>
<circle cx="440.13" cy="97.98" r="1.55" fill="#1d4b8c"/>
<circle cx="446.4" cy="96.4" r="1.55" fill="#1d4b8c"/>
<circle cx="450.58" cy="93.74" r="1.55" fill="#1d4b8c"/>
<circle cx="454.76" cy="90.59" r="1.55" fill="#1d4b8c"/>
<circle cx="461.03" cy="86.25" r="1.55" fill="#1d4b8c"/>
<circle cx="465.21" cy="79.98" r="1.55" fill="#1d4b8c"/>
<circle cx="469.39" cy="79.39" r="1.55" fill="#1d4b8c"/>
<circle cx="475.66" cy="78.09" r="1.55" fill="#1d4b8c"/>
<circle cx="479.84" cy="70.99" r="1.55" fill="#1d4b8c"/>
<polyline points="419.23,103.12 423.41,101.65 431.77,100.95 435.95,99.9 440.13,98.12 446.4,100.01 450.58,101.51 454.76,103.75 461.03,104 465.21,104.42 469.39,105.01 475.66,105.01 479.84,105.4 484.02,105.4 490.29,105.4 494.47,105.4 502.83,105.4" fill="none" stroke="#3b2472" stroke-width="0.75"/>
<circle cx="419.23" cy="103.12" r="1.55" fill="#3b2472"/>
<circle cx="423.41" cy="101.65" r="1.55" fill="#3b2472"/>
<circle cx="431.77" cy="100.95" r="1.55" fill="#3b2472"/>
<circle cx="435.95" cy="99.9" r="1.55" fill="#3b2472"/>
<circle cx="440.13" cy="98.12" r="1.55" fill="#3b2472"/>
<circle cx="446.4" cy="100.01" r="1.55" fill="#3b2472"/>
<circle cx="450.58" cy="101.51" r="1.55" fill="#3b2472"/>
<circle cx="454.76" cy="103.75" r="1.55" fill="#3b2472"/>
<circle cx="461.03" cy="104" r="1.55" fill="#3b2472"/>
<circle cx="465.21" cy="104.42" r="1.55" fill="#3b2472"/>
<circle cx="469.39" cy="105.01" r="1.55" fill="#3b2472"/>
<circle cx="475.66" cy="105.01" r="1.55" fill="#3b2472"/>
<circle cx="479.84" cy="105.4" r="1.55" fill="#3b2472"/>
<circle cx="484.02" cy="105.4" r="1.55" fill="#3b2472"/>
<circle cx="490.29" cy="105.4" r="1.55" fill="#3b2472"/>
<circle cx="494.47" cy="105.4" r="1.55" fill="#3b2472"/>
<circle cx="502.83" cy="105.4" r="1.55" fill="#3b2472"/>
<line x1="431.77" y1="99.9" x2="431.77" y2="99.2" stroke="#888" stroke-width="0.5" stroke-opacity="0.7"/>
<line x1="430.77" y1="99.2" x2="432.77" y2="99.2" stroke="#888" stroke-width="0.5" stroke-opacity="0.7"/>
<line x1="435.95" y1="95.81" x2="435.95" y2="94.41" stroke="#888" stroke-width="0.5" stroke-opacity="0.7"/>
<line x1="434.95" y1="94.41" x2="436.95" y2="94.41" stroke="#888" stroke-width="0.5" stroke-opacity="0.7"/>
<line x1="440.13" y1="91.71" x2="440.13" y2="89.61" stroke="#888" stroke-width="0.5" stroke-opacity="0.7"/>
<line x1="439.13" y1="89.61" x2="441.13" y2="89.61" stroke="#888" stroke-width="0.5" stroke-opacity="0.7"/>
<line x1="446.4" y1="81.21" x2="446.4" y2="77.01" stroke="#888" stroke-width="0.5" stroke-opacity="0.7"/>
<line x1="445.4" y1="77.01" x2="447.4" y2="77.01" stroke="#888" stroke-width="0.5" stroke-opacity="0.7"/>
<line x1="450.58" y1="69.59" x2="450.58" y2="64.34" stroke="#888" stroke-width="0.5" stroke-opacity="0.7"/>
<line x1="449.58" y1="64.34" x2="451.58" y2="64.34" stroke="#888" stroke-width="0.5" stroke-opacity="0.7"/>
<line x1="454.76" y1="62.1" x2="454.76" y2="56.5" stroke="#888" stroke-width="0.5" stroke-opacity="0.7"/>
<line x1="453.76" y1="56.5" x2="455.76" y2="56.5" stroke="#888" stroke-width="0.5" stroke-opacity="0.7"/>
<line x1="461.03" y1="58.11" x2="461.03" y2="47.61" stroke="#888" stroke-width="0.5" stroke-opacity="0.7"/>
<line x1="460.03" y1="47.61" x2="462.03" y2="47.61" stroke="#888" stroke-width="0.5" stroke-opacity="0.7"/>
<line x1="465.21" y1="50.41" x2="465.21" y2="34.66" stroke="#888" stroke-width="0.5" stroke-opacity="0.7"/>
<line x1="464.21" y1="34.66" x2="466.21" y2="34.66" stroke="#888" stroke-width="0.5" stroke-opacity="0.7"/>
<polyline points="419.23,103.12 423.41,101.65 431.77,99.9 435.95,95.81 440.13,91.71 446.4,81.21 450.58,69.59 454.76,62.1 461.03,58.11 465.21,50.41" fill="none" stroke="#3a3a3a" stroke-width="0.75"/>
<circle cx="419.23" cy="103.12" r="1.55" fill="#3a3a3a"/>
<circle cx="423.41" cy="101.65" r="1.55" fill="#3a3a3a"/>
<circle cx="431.77" cy="99.9" r="1.55" fill="#3a3a3a"/>
<circle cx="435.95" cy="95.81" r="1.55" fill="#3a3a3a"/>
<circle cx="440.13" cy="91.71" r="1.55" fill="#3a3a3a"/>
<circle cx="446.4" cy="81.21" r="1.55" fill="#3a3a3a"/>
<circle cx="450.58" cy="69.59" r="1.55" fill="#3a3a3a"/>
<circle cx="454.76" cy="62.1" r="1.55" fill="#3a3a3a"/>
<circle cx="461.03" cy="58.11" r="1.55" fill="#3a3a3a"/>
<circle cx="465.21" cy="50.41" r="1.55" fill="#3a3a3a"/>
<text x="456.4" y="36.25" font-size="5.7" fill="#555" color="#555" text-anchor="middle" textLength="11.2" lengthAdjust="spacingAndGlyphs">0/12</text>
<text x="487.6" y="57.05" font-size="5.7" fill="#4fb0e0" color="#4fb0e0" text-anchor="middle" textLength="11.2" lengthAdjust="spacingAndGlyphs">1/12</text>
<text x="488.6" y="70.65" font-size="5.7" fill="#1d4b8c" color="#1d4b8c" text-anchor="middle" textLength="11.2" lengthAdjust="spacingAndGlyphs">3/12</text>
<text x="505.6" y="80.45" font-size="5.7" fill="#f4c870" color="#f4c870" text-anchor="middle" textLength="11.2" lengthAdjust="spacingAndGlyphs">2/12</text>
<text x="506" y="102.25" font-size="5.7" fill="#5a3a8a" color="#5a3a8a" text-anchor="middle" textLength="13.6" lengthAdjust="spacingAndGlyphs">10/12</text>
<line x1="371.4" y1="136.6" x2="376.6" y2="136.6" stroke="#3a3a3a" stroke-width="0.6"/>
<circle cx="374" cy="136.6" r="1.2" fill="#3a3a3a"/>
<text x="379.4" y="138.54" font-size="5.4" fill="#2e2e2e" color="#2e2e2e" textLength="16.6" lengthAdjust="spacingAndGlyphs">vehicle</text>
<line x1="371.4" y1="145.2" x2="376.6" y2="145.2" stroke="#f2b53c" stroke-width="0.6"/>
<circle cx="374" cy="145.2" r="1.2" fill="#f2b53c"/>
<text x="379.4" y="147.14" font-size="5.4" fill="#2e2e2e" color="#2e2e2e" textLength="41.9" lengthAdjust="spacingAndGlyphs">Gpt + glofitamab</text>
<line x1="425.1" y1="136.7" x2="430.3" y2="136.7" stroke="#3b2472" stroke-width="0.6"/>
<circle cx="427.7" cy="136.7" r="1.2" fill="#3b2472"/>
<text x="433.1" y="138.64" font-size="5.4" fill="#2e2e2e" color="#2e2e2e" textLength="80.2" lengthAdjust="spacingAndGlyphs">Gpt + glofitamab + CD19-41BBL</text>
<line x1="425.1" y1="145" x2="430.3" y2="145" stroke="#3aa5dd" stroke-width="0.6"/>
<circle cx="427.7" cy="145" r="1.2" fill="#3aa5dd"/>
<text x="433.1" y="146.94" font-size="5.4" fill="#2e2e2e" color="#2e2e2e" textLength="21.1" lengthAdjust="spacingAndGlyphs">R-CHOP</text>
<line x1="425.1" y1="154.4" x2="430.3" y2="154.4" stroke="#1d4b8c" stroke-width="0.6"/>
<circle cx="427.7" cy="154.4" r="1.2" fill="#1d4b8c"/>
<text x="433.1" y="156.34" font-size="5.4" fill="#2e2e2e" color="#2e2e2e" textLength="69.6" lengthAdjust="spacingAndGlyphs">Gpt + R-CHOP + glofitamab</text>
<line x1="404.6" y1="188.8" x2="404.6" y2="280.3" stroke="#151515" stroke-width="1.1"/>
<line x1="404.1" y1="279.8" x2="509.4" y2="279.8" stroke="#151515" stroke-width="1.1"/>
<line x1="401.8" y1="279.5" x2="404.6" y2="279.5" stroke="#222" stroke-width="0.9"/>
<text x="398.6" y="281.44" font-size="5.4" fill="#3c3c3c" color="#3c3c3c" text-anchor="end" textLength="2.9" lengthAdjust="spacingAndGlyphs">0</text>
<line x1="401.8" y1="250.1" x2="404.6" y2="250.1" stroke="#222" stroke-width="0.9"/>
<text x="398.6" y="252.04" font-size="5.4" fill="#3c3c3c" color="#3c3c3c" text-anchor="end" textLength="11.6" lengthAdjust="spacingAndGlyphs">1000</text>
<line x1="401.8" y1="220.7" x2="404.6" y2="220.7" stroke="#222" stroke-width="0.9"/>
<text x="398.6" y="222.64" font-size="5.4" fill="#3c3c3c" color="#3c3c3c" text-anchor="end" textLength="11.6" lengthAdjust="spacingAndGlyphs">2000</text>
<line x1="401.8" y1="191.3" x2="404.6" y2="191.3" stroke="#222" stroke-width="0.9"/>
<text x="398.6" y="193.24" font-size="5.4" fill="#3c3c3c" color="#3c3c3c" text-anchor="end" textLength="11.6" lengthAdjust="spacingAndGlyphs">3000</text>
<line x1="404.6" y1="279.5" x2="404.6" y2="282.9" stroke="#222" stroke-width="0.9"/>
<text x="404.6" y="290.4" font-size="5.4" fill="#3c3c3c" color="#3c3c3c" text-anchor="middle" textLength="2.9" lengthAdjust="spacingAndGlyphs">0</text>
<line x1="430.2" y1="279.5" x2="430.2" y2="282.9" stroke="#222" stroke-width="0.9"/>
<text x="430.2" y="290.4" font-size="5.4" fill="#3c3c3c" color="#3c3c3c" text-anchor="middle" textLength="5.8" lengthAdjust="spacingAndGlyphs">10</text>
<line x1="455.8" y1="279.5" x2="455.8" y2="282.9" stroke="#222" stroke-width="0.9"/>
<text x="455.8" y="290.4" font-size="5.4" fill="#3c3c3c" color="#3c3c3c" text-anchor="middle" textLength="5.8" lengthAdjust="spacingAndGlyphs">20</text>
<line x1="481.4" y1="279.5" x2="481.4" y2="282.9" stroke="#222" stroke-width="0.9"/>
<text x="481.4" y="290.4" font-size="5.4" fill="#3c3c3c" color="#3c3c3c" text-anchor="middle" textLength="5.8" lengthAdjust="spacingAndGlyphs">30</text>
<line x1="507" y1="279.5" x2="507" y2="282.9" stroke="#222" stroke-width="0.9"/>
<text x="507" y="290.4" font-size="5.4" fill="#3c3c3c" color="#3c3c3c" text-anchor="middle" textLength="5.8" lengthAdjust="spacingAndGlyphs">40</text>
<text x="458" y="301.5" font-size="7.8" fill="#3c3c3c" color="#3c3c3c" text-anchor="middle" textLength="12" lengthAdjust="spacingAndGlyphs">Days</text>
<text x="381.4" y="234.5" font-size="7" fill="#2e2e2e" color="#2e2e2e" text-anchor="middle" textLength="77.2" lengthAdjust="spacingAndGlyphs" transform="rotate(-90 381.4 234.5)">Tumor volume [mm<tspan font-size="4.2" dy="-2.2">3</tspan><tspan dy="2.2">] + SEM</tspan></text>
<line x1="437.88" y1="268.03" x2="437.88" y2="266.86" stroke="#f5c232" stroke-width="0.5" stroke-opacity="0.7"/>
<line x1="436.88" y1="266.86" x2="438.88" y2="266.86" stroke="#f5c232" stroke-width="0.5" stroke-opacity="0.7"/>
<line x1="443" y1="263.04" x2="443" y2="261.27" stroke="#f5c232" stroke-width="0.5" stroke-opacity="0.7"/>
<line x1="442" y1="261.27" x2="444" y2="261.27" stroke="#f5c232" stroke-width="0.5" stroke-opacity="0.7"/>
<line x1="450.68" y1="253.19" x2="450.68" y2="247.31" stroke="#f5c232" stroke-width="0.5" stroke-opacity="0.7"/>
<line x1="449.68" y1="247.31" x2="451.68" y2="247.31" stroke="#f5c232" stroke-width="0.5" stroke-opacity="0.7"/>
<line x1="455.8" y1="253.19" x2="455.8" y2="248.48" stroke="#f5c232" stroke-width="0.5" stroke-opacity="0.7"/>
<line x1="454.8" y1="248.48" x2="456.8" y2="248.48" stroke="#f5c232" stroke-width="0.5" stroke-opacity="0.7"/>
<line x1="460.92" y1="241.31" x2="460.92" y2="236.02" stroke="#f5c232" stroke-width="0.5" stroke-opacity="0.7"/>
<line x1="459.92" y1="236.02" x2="461.92" y2="236.02" stroke="#f5c232" stroke-width="0.5" stroke-opacity="0.7"/>
<line x1="468.6" y1="220.91" x2="468.6" y2="213.56" stroke="#f5c232" stroke-width="0.5" stroke-opacity="0.7"/>
<line x1="467.6" y1="213.56" x2="469.6" y2="213.56" stroke="#f5c232" stroke-width="0.5" stroke-opacity="0.7"/>
<line x1="473.72" y1="217.91" x2="473.72" y2="209.09" stroke="#f5c232" stroke-width="0.5" stroke-opacity="0.7"/>
<line x1="472.72" y1="209.09" x2="474.72" y2="209.09" stroke="#f5c232" stroke-width="0.5" stroke-opacity="0.7"/>
<line x1="478.84" y1="206" x2="478.84" y2="200.12" stroke="#f5c232" stroke-width="0.5" stroke-opacity="0.7"/>
<line x1="477.84" y1="200.12" x2="479.84" y2="200.12" stroke="#f5c232" stroke-width="0.5" stroke-opacity="0.7"/>
<polyline points="414.84,275.68 419.96,275.24 425.08,273.47 432.76,271.27 437.88,268.03 443,263.04 450.68,253.19 455.8,253.19 460.92,241.31 468.6,220.91 473.72,217.91 478.84,206" fill="none" stroke="#f5c232" stroke-width="0.75"/>
<circle cx="414.84" cy="275.68" r="1.55" fill="#f5c232"/>
<circle cx="419.96" cy="275.24" r="1.55" fill="#f5c232"/>
<circle cx="425.08" cy="273.47" r="1.55" fill="#f5c232"/>
<circle cx="432.76" cy="271.27" r="1.55" fill="#f5c232"/>
<circle cx="437.88" cy="268.03" r="1.55" fill="#f5c232"/>
<circle cx="443" cy="263.04" r="1.55" fill="#f5c232"/>
<circle cx="450.68" cy="253.19" r="1.55" fill="#f5c232"/>
<circle cx="455.8" cy="253.19" r="1.55" fill="#f5c232"/>
<circle cx="460.92" cy="241.31" r="1.55" fill="#f5c232"/>
<circle cx="468.6" cy="220.91" r="1.55" fill="#f5c232"/>
<circle cx="473.72" cy="217.91" r="1.55" fill="#f5c232"/>
<circle cx="478.84" cy="206" r="1.55" fill="#f5c232"/>
<line x1="437.88" y1="269.8" x2="437.88" y2="268.92" stroke="#3aa74b" stroke-width="0.5" stroke-opacity="0.7"/>
<line x1="436.88" y1="268.92" x2="438.88" y2="268.92" stroke="#3aa74b" stroke-width="0.5" stroke-opacity="0.7"/>
<line x1="443" y1="265.68" x2="443" y2="264.21" stroke="#3aa74b" stroke-width="0.5" stroke-opacity="0.7"/>
<line x1="442" y1="264.21" x2="444" y2="264.21" stroke="#3aa74b" stroke-width="0.5" stroke-opacity="0.7"/>
<line x1="450.68" y1="254.6" x2="450.68" y2="251.07" stroke="#3aa74b" stroke-width="0.5" stroke-opacity="0.7"/>
<line x1="449.68" y1="251.07" x2="451.68" y2="251.07" stroke="#3aa74b" stroke-width="0.5" stroke-opacity="0.7"/>
<line x1="455.8" y1="253.6" x2="455.8" y2="249.19" stroke="#3aa74b" stroke-width="0.5" stroke-opacity="0.7"/>
<line x1="454.8" y1="249.19" x2="456.8" y2="249.19" stroke="#3aa74b" stroke-width="0.5" stroke-opacity="0.7"/>
<line x1="460.92" y1="248.6" x2="460.92" y2="243.31" stroke="#3aa74b" stroke-width="0.5" stroke-opacity="0.7"/>
<line x1="459.92" y1="243.31" x2="461.92" y2="243.31" stroke="#3aa74b" stroke-width="0.5" stroke-opacity="0.7"/>
<line x1="468.6" y1="234.81" x2="468.6" y2="228.93" stroke="#3aa74b" stroke-width="0.5" stroke-opacity="0.7"/>
<line x1="467.6" y1="228.93" x2="469.6" y2="228.93" stroke="#3aa74b" stroke-width="0.5" stroke-opacity="0.7"/>
<line x1="473.72" y1="232.81" x2="473.72" y2="226.34" stroke="#3aa74b" stroke-width="0.5" stroke-opacity="0.7"/>
<line x1="472.72" y1="226.34" x2="474.72" y2="226.34" stroke="#3aa74b" stroke-width="0.5" stroke-opacity="0.7"/>
<polyline points="414.84,275.68 419.96,275.24 425.08,273.47 432.76,271.27 437.88,269.8 443,265.68 450.68,254.6 455.8,253.6 460.92,248.6 468.6,234.81 473.72,232.81" fill="none" stroke="#3aa74b" stroke-width="0.75"/>
<circle cx="414.84" cy="275.68" r="1.55" fill="#3aa74b"/>
<circle cx="419.96" cy="275.24" r="1.55" fill="#3aa74b"/>
<circle cx="425.08" cy="273.47" r="1.55" fill="#3aa74b"/>
<circle cx="432.76" cy="271.27" r="1.55" fill="#3aa74b"/>
<circle cx="437.88" cy="269.8" r="1.55" fill="#3aa74b"/>
<circle cx="443" cy="265.68" r="1.55" fill="#3aa74b"/>
<circle cx="450.68" cy="254.6" r="1.55" fill="#3aa74b"/>
<circle cx="455.8" cy="253.6" r="1.55" fill="#3aa74b"/>
<circle cx="460.92" cy="248.6" r="1.55" fill="#3aa74b"/>
<circle cx="468.6" cy="234.81" r="1.55" fill="#3aa74b"/>
<circle cx="473.72" cy="232.81" r="1.55" fill="#3aa74b"/>
<line x1="473.72" y1="271.39" x2="473.72" y2="269.62" stroke="#563182" stroke-width="0.5" stroke-opacity="0.7"/>
<line x1="472.72" y1="269.62" x2="474.72" y2="269.62" stroke="#563182" stroke-width="0.5" stroke-opacity="0.7"/>
<line x1="478.84" y1="261.1" x2="478.84" y2="255.22" stroke="#563182" stroke-width="0.5" stroke-opacity="0.7"/>
<line x1="477.84" y1="255.22" x2="479.84" y2="255.22" stroke="#563182" stroke-width="0.5" stroke-opacity="0.7"/>
<line x1="486.52" y1="251.6" x2="486.52" y2="244.25" stroke="#563182" stroke-width="0.5" stroke-opacity="0.7"/>
<line x1="485.52" y1="244.25" x2="487.52" y2="244.25" stroke="#563182" stroke-width="0.5" stroke-opacity="0.7"/>
<line x1="491.64" y1="243.31" x2="491.64" y2="232.14" stroke="#563182" stroke-width="0.5" stroke-opacity="0.7"/>
<line x1="490.64" y1="232.14" x2="492.64" y2="232.14" stroke="#563182" stroke-width="0.5" stroke-opacity="0.7"/>
<polyline points="414.84,275.68 419.96,275.24 425.08,273.47 432.76,271.27 437.88,267.15 443,265.8 450.68,271.39 455.8,275.3 460.92,276.3 468.6,275.71 473.72,271.39 478.84,261.1 486.52,251.6 491.64,243.31" fill="none" stroke="#563182" stroke-width="0.75"/>
<circle cx="414.84" cy="275.68" r="1.55" fill="#563182"/>
<circle cx="419.96" cy="275.24" r="1.55" fill="#563182"/>
<circle cx="425.08" cy="273.47" r="1.55" fill="#563182"/>
<circle cx="432.76" cy="271.27" r="1.55" fill="#563182"/>
<circle cx="437.88" cy="267.15" r="1.55" fill="#563182"/>
<circle cx="443" cy="265.8" r="1.55" fill="#563182"/>
<circle cx="450.68" cy="271.39" r="1.55" fill="#563182"/>
<circle cx="455.8" cy="275.3" r="1.55" fill="#563182"/>
<circle cx="460.92" cy="276.3" r="1.55" fill="#563182"/>
<circle cx="468.6" cy="275.71" r="1.55" fill="#563182"/>
<circle cx="473.72" cy="271.39" r="1.55" fill="#563182"/>
<circle cx="478.84" cy="261.1" r="1.55" fill="#563182"/>
<circle cx="486.52" cy="251.6" r="1.55" fill="#563182"/>
<circle cx="491.64" cy="243.31" r="1.55" fill="#563182"/>
<line x1="468.6" y1="276.91" x2="468.6" y2="275.74" stroke="#2b5493" stroke-width="0.5" stroke-opacity="0.7"/>
<line x1="467.6" y1="275.74" x2="469.6" y2="275.74" stroke="#2b5493" stroke-width="0.5" stroke-opacity="0.7"/>
<line x1="491.64" y1="264.51" x2="491.64" y2="260.98" stroke="#2b5493" stroke-width="0.5" stroke-opacity="0.7"/>
<line x1="490.64" y1="260.98" x2="492.64" y2="260.98" stroke="#2b5493" stroke-width="0.5" stroke-opacity="0.7"/>
<line x1="496.76" y1="255.89" x2="496.76" y2="248.25" stroke="#2b5493" stroke-width="0.5" stroke-opacity="0.7"/>
<line x1="495.76" y1="248.25" x2="497.76" y2="248.25" stroke="#2b5493" stroke-width="0.5" stroke-opacity="0.7"/>
<polyline points="414.84,275.68 419.96,275.24 425.08,273.47 432.76,271.27 437.88,270.68 443,265.39 450.68,265.09 455.8,270.39 460.92,275.71 468.6,276.91 473.72,275.71 478.84,273 486.52,272.41 491.64,264.51 496.76,255.89" fill="none" stroke="#2b5493" stroke-width="0.75"/>
<circle cx="414.84" cy="275.68" r="1.55" fill="#2b5493"/>
<circle cx="419.96" cy="275.24" r="1.55" fill="#2b5493"/>
<circle cx="425.08" cy="273.47" r="1.55" fill="#2b5493"/>
<circle cx="432.76" cy="271.27" r="1.55" fill="#2b5493"/>
<circle cx="437.88" cy="270.68" r="1.55" fill="#2b5493"/>
<circle cx="443" cy="265.39" r="1.55" fill="#2b5493"/>
<circle cx="450.68" cy="265.09" r="1.55" fill="#2b5493"/>
<circle cx="455.8" cy="270.39" r="1.55" fill="#2b5493"/>
<circle cx="460.92" cy="275.71" r="1.55" fill="#2b5493"/>
<circle cx="468.6" cy="276.91" r="1.55" fill="#2b5493"/>
<circle cx="473.72" cy="275.71" r="1.55" fill="#2b5493"/>
<circle cx="478.84" cy="273" r="1.55" fill="#2b5493"/>
<circle cx="486.52" cy="272.41" r="1.55" fill="#2b5493"/>
<circle cx="491.64" cy="264.51" r="1.55" fill="#2b5493"/>
<circle cx="496.76" cy="255.89" r="1.55" fill="#2b5493"/>
<line x1="437.88" y1="264.51" x2="437.88" y2="263.33" stroke="#d0213f" stroke-width="0.5" stroke-opacity="0.7"/>
<line x1="436.88" y1="263.33" x2="438.88" y2="263.33" stroke="#d0213f" stroke-width="0.5" stroke-opacity="0.7"/>
<line x1="443" y1="251.6" x2="443" y2="249.25" stroke="#d0213f" stroke-width="0.5" stroke-opacity="0.7"/>
<line x1="442" y1="249.25" x2="444" y2="249.25" stroke="#d0213f" stroke-width="0.5" stroke-opacity="0.7"/>
<line x1="450.68" y1="231.4" x2="450.68" y2="225.52" stroke="#d0213f" stroke-width="0.5" stroke-opacity="0.7"/>
<line x1="449.68" y1="225.52" x2="451.68" y2="225.52" stroke="#d0213f" stroke-width="0.5" stroke-opacity="0.7"/>
<line x1="455.8" y1="228.81" x2="455.8" y2="225.29" stroke="#d0213f" stroke-width="0.5" stroke-opacity="0.7"/>
<line x1="454.8" y1="225.29" x2="456.8" y2="225.29" stroke="#d0213f" stroke-width="0.5" stroke-opacity="0.7"/>
<line x1="460.92" y1="212" x2="460.92" y2="207.88" stroke="#d0213f" stroke-width="0.5" stroke-opacity="0.7"/>
<line x1="459.92" y1="207.88" x2="461.92" y2="207.88" stroke="#d0213f" stroke-width="0.5" stroke-opacity="0.7"/>
<polyline points="414.84,275.68 419.96,275.24 425.08,273.41 432.76,270.39 437.88,264.51 443,251.6 450.68,231.4 455.8,228.81 460.92,212" fill="none" stroke="#d0213f" stroke-width="0.75"/>
<circle cx="414.84" cy="275.68" r="1.55" fill="#d0213f"/>
<circle cx="419.96" cy="275.24" r="1.55" fill="#d0213f"/>
<circle cx="425.08" cy="273.41" r="1.55" fill="#d0213f"/>
<circle cx="432.76" cy="270.39" r="1.55" fill="#d0213f"/>
<circle cx="437.88" cy="264.51" r="1.55" fill="#d0213f"/>
<circle cx="443" cy="251.6" r="1.55" fill="#d0213f"/>
<circle cx="450.68" cy="231.4" r="1.55" fill="#d0213f"/>
<circle cx="455.8" cy="228.81" r="1.55" fill="#d0213f"/>
<circle cx="460.92" cy="212" r="1.55" fill="#d0213f"/>
<text x="457.4" y="206.35" font-size="5.7" fill="#d0213f" color="#d0213f" text-anchor="middle" textLength="11.2" lengthAdjust="spacingAndGlyphs">0/10</text>
<text x="482.6" y="201.55" font-size="5.7" fill="#f6d26a" color="#f6d26a" text-anchor="middle" textLength="11.2" lengthAdjust="spacingAndGlyphs">2/10</text>
<text x="481.6" y="225.35" font-size="5.7" fill="#5cb06a" color="#5cb06a" text-anchor="middle" textLength="11.2" lengthAdjust="spacingAndGlyphs">2/10</text>
<text x="499.4" y="239.55" font-size="5.7" fill="#5a4680" color="#5a4680" text-anchor="middle" textLength="11.2" lengthAdjust="spacingAndGlyphs">2/10</text>
<text x="505" y="254.45" font-size="5.7" fill="#3d5a8e" color="#3d5a8e" text-anchor="middle" textLength="11.2" lengthAdjust="spacingAndGlyphs">5/10</text>
<line x1="371.9" y1="308.9" x2="377.1" y2="308.9" stroke="#d0213f" stroke-width="0.6"/>
<circle cx="374.5" cy="308.9" r="1.2" fill="#d0213f"/>
<text x="380.4" y="310.84" font-size="5.4" fill="#2e2e2e" color="#2e2e2e" textLength="32.6" lengthAdjust="spacingAndGlyphs">Gpt + vehicle</text>
<line x1="371.9" y1="317.8" x2="377.1" y2="317.8" stroke="#f5c232" stroke-width="0.6"/>
<circle cx="374.5" cy="317.8" r="1.2" fill="#f5c232"/>
<text x="380.4" y="319.74" font-size="5.4" fill="#2e2e2e" color="#2e2e2e" textLength="42.8" lengthAdjust="spacingAndGlyphs">Gpt + glofitamab</text>
<line x1="423.9" y1="308.9" x2="429.1" y2="308.9" stroke="#3aa74b" stroke-width="0.6"/>
<circle cx="426.5" cy="308.9" r="1.2" fill="#3aa74b"/>
<text x="432.3" y="310.84" font-size="5.4" fill="#2e2e2e" color="#2e2e2e" textLength="61.5" lengthAdjust="spacingAndGlyphs">glofitamab + CD19-CD28</text>
<line x1="423.9" y1="317.8" x2="429.1" y2="317.8" stroke="#563182" stroke-width="0.6"/>
<circle cx="426.5" cy="317.8" r="1.2" fill="#563182"/>
<text x="432.3" y="319.74" font-size="5.4" fill="#2e2e2e" color="#2e2e2e" textLength="65.4" lengthAdjust="spacingAndGlyphs">glofitamab + CD19-4-1BBL</text>
<line x1="371.9" y1="326.6" x2="377.1" y2="326.6" stroke="#2b5493" stroke-width="0.6"/>
<circle cx="374.5" cy="326.6" r="1.2" fill="#2b5493"/>
<text x="380.4" y="328.54" font-size="5.4" fill="#2e2e2e" color="#2e2e2e" textLength="134.2" lengthAdjust="spacingAndGlyphs">Gpt + glofitamab + CD19-CD28 (once) + CD19-4-1BBL</text>
<polygon points="93.2,193.8 98.7,193.8 95.95,189" fill="#333"/>
<text x="101" y="193.79" font-size="5.8" fill="#2e2e2e" color="#2e2e2e" textLength="16.7" lengthAdjust="spacingAndGlyphs">vehicle</text>
<polygon points="93.55,202.9 98.35,202.9 95.95,198.5" fill="#fff" stroke="#9aa0a8" stroke-width="0.5" stroke-linejoin="round"/>
<text x="101" y="202.79" font-size="5.8" fill="#2e2e2e" color="#2e2e2e" textLength="9.2" lengthAdjust="spacingAndGlyphs">Gpt</text>
<polygon points="125.8,193.8 131.4,193.8 128.6,189" fill="#eb9b2d"/>
<text x="134.8" y="194.09" font-size="5.8" fill="#f2b050" color="#f2b050" textLength="26" lengthAdjust="spacingAndGlyphs">glofitamab</text>
<text x="162.5" y="194.8" font-size="2.6" fill="#f6cc96" color="#f6cc96" textLength="12.8" lengthAdjust="spacingAndGlyphs">0.5 mg/kg</text>
<polygon points="125.8,203.2 131.4,203.2 128.6,198.4" fill="#4b2270"/>
<text x="134.8" y="203.09" font-size="5.8" fill="#5a4084" color="#5a4084" textLength="32.4" lengthAdjust="spacingAndGlyphs">CD19-4-1BBL</text>
<text x="169.4" y="204.2" font-size="2.6" fill="#b0a4c0" color="#b0a4c0" textLength="11.6" lengthAdjust="spacingAndGlyphs">1 mg/kg</text>
<polygon points="125.8,212.7 131.4,212.7 128.6,207.9" fill="#3f9c4b"/>
<text x="134.8" y="212.79" font-size="5.8" fill="#5cb066" color="#5cb066" textLength="29.5" lengthAdjust="spacingAndGlyphs">CD19-CD28</text>
<text x="166.3" y="213.8" font-size="2.6" fill="#a8d0ac" color="#a8d0ac" textLength="11.3" lengthAdjust="spacingAndGlyphs">1 mg/kg</text>
<path d="M187.4,190.3 L190.6,193.5 M187.4,193.5 L190.6,190.3" stroke="#111" stroke-width="1.4" stroke-linecap="butt"/>
<text x="192.6" y="194.09" font-size="5.8" fill="#2e2e2e" color="#2e2e2e" textLength="15.6" lengthAdjust="spacingAndGlyphs">scouts</text>
<text x="41.5" y="206.99" font-size="5.8" fill="#2e2e2e" color="#2e2e2e" textLength="26.3" lengthAdjust="spacingAndGlyphs">humanized</text>
<text x="39" y="213.29" font-size="5.8" fill="#2e2e2e" color="#2e2e2e" textLength="29.3" lengthAdjust="spacingAndGlyphs">BRGS-CD47</text>
<g fill="#111" transform="translate(39 216.9) scale(1.21) translate(-38.7 -61.3)"><path d="M45.0,74.9 C44.0,70.5 45.6,65.0 50.4,64.1 C54.8,63.4 56.9,67.6 56.7,71.2 C56.6,73.4 55.9,74.9 54.2,74.9 Z"/><path d="M48.4,64.8 C46.2,63.3 43.2,64.1 41.6,65.5 C40.6,66.3 39.1,66.8 39.0,67.6 C38.9,68.5 40.3,69.1 41.3,69.3 C42.3,70.7 44.0,71.9 46.6,71.7 C47.8,70.2 48.8,67.4 48.4,64.8 Z"/><circle cx="46.8" cy="62.5" r="1.8"/><circle cx="41.9" cy="62.7" r="0.85"/><path d="M41.9,62.8 L43.6,65.6" stroke="#111" stroke-width="0.6" fill="none"/><ellipse cx="43.6" cy="72.0" rx="1.7" ry="0.85"/><path d="M54.5,74.8 C58.5,75.0 62.4,74.9 63.8,73.8 C64.8,72.9 64.9,70.8 64.5,69.3" stroke="#111" stroke-width="0.65" fill="none"/><circle cx="42.3" cy="66.3" r="0.5" fill="#fff"/></g>
<line x1="55.4" y1="248.8" x2="213.9" y2="248.8" stroke="#262626" stroke-width="1.1"/>
<line x1="55.4" y1="245.5" x2="55.4" y2="253.2" stroke="#262626" stroke-width="0.9"/>
<text x="55.4" y="241.09" font-size="5.8" fill="#2e2e2e" color="#2e2e2e" text-anchor="middle">D0</text>
<line x1="100.6" y1="245.5" x2="100.6" y2="253.2" stroke="#262626" stroke-width="0.9"/>
<text x="100.6" y="241.09" font-size="5.8" fill="#2e2e2e" color="#2e2e2e" text-anchor="middle">D5</text>
<line x1="116.7" y1="245.5" x2="116.7" y2="253.2" stroke="#262626" stroke-width="0.9"/>
<text x="116.7" y="241.09" font-size="5.8" fill="#2e2e2e" color="#2e2e2e" text-anchor="middle">D8</text>
<line x1="135.4" y1="245.5" x2="135.4" y2="253.2" stroke="#262626" stroke-width="0.9"/>
<text x="135.4" y="241.09" font-size="5.8" fill="#2e2e2e" color="#2e2e2e" text-anchor="middle">D11</text>
<line x1="152.7" y1="245.5" x2="152.7" y2="253.2" stroke="#262626" stroke-width="0.9"/>
<text x="152.7" y="241.09" font-size="5.8" fill="#2e2e2e" color="#2e2e2e" text-anchor="middle">D15</text>
<line x1="167.3" y1="245.5" x2="167.3" y2="253.2" stroke="#262626" stroke-width="0.9"/>
<text x="167.3" y="243.49" font-size="5.8" fill="#2e2e2e" color="#2e2e2e" text-anchor="middle">D18</text>
<line x1="178.8" y1="245.5" x2="178.8" y2="253.2" stroke="#262626" stroke-width="0.9"/>
<text x="178.8" y="241.09" font-size="5.8" fill="#2e2e2e" color="#2e2e2e" text-anchor="middle">D22</text>
<line x1="195.9" y1="245.5" x2="195.9" y2="253.2" stroke="#262626" stroke-width="0.9"/>
<text x="195.9" y="241.09" font-size="5.8" fill="#2e2e2e" color="#2e2e2e" text-anchor="middle">D29</text>
<line x1="213.9" y1="245.5" x2="213.9" y2="253.2" stroke="#262626" stroke-width="0.9"/>
<text x="213.9" y="241.09" font-size="5.8" fill="#2e2e2e" color="#2e2e2e" text-anchor="middle">D33</text>
<path d="M164.7,256.1 L168.3,259.7 M164.7,259.7 L168.3,256.1" stroke="#111" stroke-width="1.5" stroke-linecap="butt"/>
<text x="199.3" y="260.89" font-size="5.8" fill="#4a5060" color="#4a5060" textLength="29.4" lengthAdjust="spacingAndGlyphs">Termination</text>
<line x1="55.2" y1="257.8" x2="55.2" y2="265" stroke="#111" stroke-width="1"/>
<polygon points="53.4,259.0 57.0,259.0 55.2,255.0" fill="#111"/>
<text x="16.6" y="266.09" font-size="5.8" fill="#2e2e2e" color="#2e2e2e" textLength="33.1" lengthAdjust="spacingAndGlyphs">SUDHL-8 (SC)</text>
<text x="85.4" y="265.19" font-size="5.8" fill="#2e2e2e" color="#2e2e2e" text-anchor="end" textLength="16.4" lengthAdjust="spacingAndGlyphs">Vehicle</text>
<line x1="81.8" y1="266.3" x2="210.8" y2="266.3" stroke="#333" stroke-width="0.95" stroke-dasharray="3.1 2.3"/>
<text x="85.4" y="272.19" font-size="5.8" fill="#2e2e2e" color="#2e2e2e" text-anchor="end" textLength="26" lengthAdjust="spacingAndGlyphs">glofitamab</text>
<line x1="81.8" y1="273.3" x2="210.8" y2="273.3" stroke="#333" stroke-width="0.95" stroke-dasharray="3.1 2.3"/>
<text x="85.4" y="279.49" font-size="5.8" fill="#2e2e2e" color="#2e2e2e" text-anchor="end" textLength="62" lengthAdjust="spacingAndGlyphs">glofitamab + CD19-CD28</text>
<line x1="81.8" y1="280.6" x2="210.8" y2="280.6" stroke="#333" stroke-width="0.95" stroke-dasharray="3.1 2.3"/>
<text x="85.4" y="286.59" font-size="5.8" fill="#2e2e2e" color="#2e2e2e" text-anchor="end" textLength="65.5" lengthAdjust="spacingAndGlyphs">glofitamab + CD19-4-1BBL</text>
<line x1="81.8" y1="287.7" x2="210.8" y2="287.7" stroke="#333" stroke-width="0.95" stroke-dasharray="3.1 2.3"/>
<text x="85.4" y="293.69" font-size="5.8" fill="#2e2e2e" color="#2e2e2e" text-anchor="end" textLength="78.5" lengthAdjust="spacingAndGlyphs">glofitamab + CD19-CD28 (once)</text>
<line x1="81.8" y1="294.8" x2="210.8" y2="294.8" stroke="#333" stroke-width="0.95" stroke-dasharray="3.1 2.3"/>
<text x="8.1" y="300.19" font-size="5.8" fill="#2e2e2e" color="#2e2e2e" textLength="36.2" lengthAdjust="spacingAndGlyphs">+ CD19-4-1BBL</text>
<polygon points="97.1,272.9 101.5,272.9 99.3,268.5" fill="#fff" stroke="#9aa0a8" stroke-width="0.5" stroke-linejoin="round"/>
<polygon points="97.1,280.2 101.5,280.2 99.3,275.8" fill="#fff" stroke="#9aa0a8" stroke-width="0.5" stroke-linejoin="round"/>
<polygon points="97.1,287.3 101.5,287.3 99.3,282.9" fill="#fff" stroke="#9aa0a8" stroke-width="0.5" stroke-linejoin="round"/>
<polygon points="97.1,294.4 101.5,294.4 99.3,290" fill="#fff" stroke="#9aa0a8" stroke-width="0.5" stroke-linejoin="round"/>
<polygon points="113.7,266.3 119.7,266.3 116.7,260.1" fill="#2f3e6a"/>
<polygon points="149.7,266.3 155.7,266.3 152.7,260.1" fill="#2f3e6a"/>
<polygon points="175.8,266.3 181.8,266.3 178.8,260.1" fill="#2f3e6a"/>
<polygon points="192.9,266.3 198.9,266.3 195.9,260.1" fill="#2f3e6a"/>
<polygon points="113.7,273.3 119.7,273.3 116.7,267.1" fill="#eb9b2d"/>
<polygon points="113.7,280.6 119.7,280.6 116.7,274.4" fill="#eb9b2d"/>
<polygon points="113.7,287.7 119.7,287.7 116.7,281.5" fill="#eb9b2d"/>
<polygon points="113.7,294.8 119.7,294.8 116.7,288.6" fill="#eb9b2d"/>
<polygon points="132.4,280.6 138.4,280.6 135.4,274.4" fill="#3f9c4b"/>
<polygon points="132.4,287.7 138.4,287.7 135.4,281.5" fill="#4b2270"/>
<polygon points="132.4,294.8 138.4,294.8 135.4,288.6" fill="#3f9c4b"/>
<polygon points="149.7,273.3 155.7,273.3 152.7,267.1" fill="#eb9b2d"/>
<polygon points="148.3,280.6 154.3,280.6 151.3,274.4" fill="#eb9b2d"/>
<polygon points="151.5,280.6 157.5,280.6 154.5,274.4" fill="#3f9c4b"/>
<polygon points="148.3,287.7 154.3,287.7 151.3,281.5" fill="#eb9b2d"/>
<polygon points="151.5,287.7 157.5,287.7 154.5,281.5" fill="#4b2270"/>
<polygon points="148.3,294.8 154.3,294.8 151.3,288.6" fill="#eb9b2d"/>
<polygon points="151.5,294.8 157.5,294.8 154.5,288.6" fill="#4b2270"/>
<polygon points="175.8,273.3 181.8,273.3 178.8,267.1" fill="#eb9b2d"/>
<polygon points="174.4,280.6 180.4,280.6 177.4,274.4" fill="#eb9b2d"/>
<polygon points="177.6,280.6 183.6,280.6 180.6,274.4" fill="#3f9c4b"/>
<polygon points="174.4,287.7 180.4,287.7 177.4,281.5" fill="#eb9b2d"/>
<polygon points="177.6,287.7 183.6,287.7 180.6,281.5" fill="#4b2270"/>
<polygon points="174.4,294.8 180.4,294.8 177.4,288.6" fill="#eb9b2d"/>
<polygon points="177.6,294.8 183.6,294.8 180.6,288.6" fill="#4b2270"/>
<polygon points="192.9,273.3 198.9,273.3 195.9,267.1" fill="#eb9b2d"/>
<polygon points="191.5,280.6 197.5,280.6 194.5,274.4" fill="#eb9b2d"/>
<polygon points="194.7,280.6 200.7,280.6 197.7,274.4" fill="#3f9c4b"/>
<polygon points="191.5,287.7 197.5,287.7 194.5,281.5" fill="#eb9b2d"/>
<polygon points="194.7,287.7 200.7,287.7 197.7,281.5" fill="#4b2270"/>
<polygon points="191.5,294.8 197.5,294.8 194.5,288.6" fill="#eb9b2d"/>
<polygon points="194.7,294.8 200.7,294.8 197.7,288.6" fill="#4b2270"/>
<text x="75.15" y="352.8" font-size="8" fill="#2e2e2e" color="#2e2e2e" text-anchor="middle" textLength="21.5" lengthAdjust="spacingAndGlyphs">Tumor</text>
<text x="21.4" y="399" font-size="6.8" fill="#2e2e2e" color="#2e2e2e" text-anchor="middle" textLength="84" lengthAdjust="spacingAndGlyphs" transform="rotate(-90 21.4 399)">CD8<tspan font-size="4.0" dy="-2.0">+</tspan><tspan dy="2.0"> T cells [counts/mg] + SEM</tspan></text>
<line x1="44.6" y1="358.8" x2="44.6" y2="440.4" stroke="#151515" stroke-width="1.1"/>
<line x1="44.1" y1="440" x2="106.4" y2="440" stroke="#151515" stroke-width="1.1"/>
<line x1="41.8" y1="439.8" x2="44.6" y2="439.8" stroke="#222" stroke-width="0.9"/>
<text x="39.2" y="441.71" font-size="5.3" fill="#3c3c3c" color="#3c3c3c" text-anchor="end" textLength="2.85" lengthAdjust="spacingAndGlyphs">0</text>
<line x1="41.8" y1="420" x2="44.6" y2="420" stroke="#222" stroke-width="0.9"/>
<text x="39.2" y="421.91" font-size="5.3" fill="#3c3c3c" color="#3c3c3c" text-anchor="end" textLength="11.4" lengthAdjust="spacingAndGlyphs">1000</text>
<line x1="41.8" y1="400.2" x2="44.6" y2="400.2" stroke="#222" stroke-width="0.9"/>
<text x="39.2" y="402.11" font-size="5.3" fill="#3c3c3c" color="#3c3c3c" text-anchor="end" textLength="11.4" lengthAdjust="spacingAndGlyphs">2000</text>
<line x1="41.8" y1="380.4" x2="44.6" y2="380.4" stroke="#222" stroke-width="0.9"/>
<text x="39.2" y="382.31" font-size="5.3" fill="#3c3c3c" color="#3c3c3c" text-anchor="end" textLength="11.4" lengthAdjust="spacingAndGlyphs">3000</text>
<line x1="41.8" y1="360.6" x2="44.6" y2="360.6" stroke="#222" stroke-width="0.9"/>
<text x="39.2" y="362.51" font-size="5.3" fill="#3c3c3c" color="#3c3c3c" text-anchor="end" textLength="11.4" lengthAdjust="spacingAndGlyphs">4000</text>
<rect x="48.5" y="439.01" width="7.4" height="0.79" fill="#7c8aa8" stroke="#4a5a80" stroke-width="0.5"/>
<line x1="52.2" y1="439.8" x2="52.2" y2="442.4" stroke="#222" stroke-width="0.7"/>
<circle cx="50.7" cy="439.21" r="1.35" fill="#3d4c72"/>
<circle cx="52.2" cy="439.01" r="1.35" fill="#3d4c72"/>
<circle cx="53.7" cy="439.21" r="1.35" fill="#3d4c72"/>
<rect x="59.9" y="436.83" width="7.4" height="2.97" fill="#f9d77c" stroke="#f0b840" stroke-width="0.5"/>
<line x1="63.6" y1="439.8" x2="63.6" y2="442.4" stroke="#222" stroke-width="0.7"/>
<circle cx="61.6" cy="436.83" r="1.35" fill="#f5b820"/>
<circle cx="63.6" cy="436.43" r="1.35" fill="#f5b820"/>
<circle cx="65.6" cy="436.83" r="1.35" fill="#f5b820"/>
<circle cx="64.6" cy="437.23" r="1.35" fill="#f5b820"/>
<rect x="71.3" y="436.83" width="7.4" height="2.97" fill="#9fd6a0" stroke="#49a957" stroke-width="0.5"/>
<line x1="75" y1="439.8" x2="75" y2="442.4" stroke="#222" stroke-width="0.7"/>
<circle cx="73" cy="436.63" r="1.35" fill="#3aa84a"/>
<circle cx="75" cy="436.24" r="1.35" fill="#3aa84a"/>
<circle cx="77" cy="436.83" r="1.35" fill="#3aa84a"/>
<rect x="82.9" y="430.3" width="7.4" height="9.5" fill="#bda2d0" stroke="#6e4a90" stroke-width="0.5"/>
<line x1="86.6" y1="430.3" x2="86.6" y2="423.37" stroke="#6e4a90" stroke-width="0.65"/>
<line x1="85.2" y1="423.37" x2="88" y2="423.37" stroke="#6e4a90" stroke-width="0.65"/>
<line x1="86.6" y1="439.8" x2="86.6" y2="442.4" stroke="#222" stroke-width="0.7"/>
<circle cx="86.6" cy="411.09" r="1.35" fill="#3a1a5c"/>
<circle cx="85" cy="434.45" r="1.35" fill="#3a1a5c"/>
<circle cx="89" cy="436.63" r="1.35" fill="#3a1a5c"/>
<circle cx="85" cy="437.23" r="1.35" fill="#3a1a5c"/>
<rect x="94.7" y="411.49" width="7.4" height="28.31" fill="#84b0d8" stroke="#4a7aa8" stroke-width="0.5"/>
<line x1="98.4" y1="411.49" x2="98.4" y2="399.21" stroke="#4a7aa8" stroke-width="0.65"/>
<line x1="97" y1="399.21" x2="99.8" y2="399.21" stroke="#4a7aa8" stroke-width="0.65"/>
<line x1="98.4" y1="439.8" x2="98.4" y2="442.4" stroke="#222" stroke-width="0.7"/>
<circle cx="98.4" cy="375.45" r="1.35" fill="#163a6e"/>
<circle cx="98.4" cy="418.02" r="1.35" fill="#163a6e"/>
<circle cx="98.4" cy="421.98" r="1.35" fill="#163a6e"/>
<circle cx="98.4" cy="428.71" r="1.35" fill="#163a6e"/>
<line x1="52.7" y1="364.4" x2="97.8" y2="364.4" stroke="#444" stroke-width="0.6"/>
<text x="75.8" y="364.8" font-size="5" fill="#444" color="#444" text-anchor="middle">**</text>
<line x1="87.4" y1="370.2" x2="98.2" y2="370.2" stroke="#444" stroke-width="0.6"/>
<text x="92.7" y="370.6" font-size="5" fill="#444" color="#444" text-anchor="middle">*</text>
<text x="180.5" y="352.8" font-size="8" fill="#2e2e2e" color="#2e2e2e" text-anchor="middle" textLength="21.5" lengthAdjust="spacingAndGlyphs">Tumor</text>
<text x="128" y="398.9" font-size="6.8" fill="#2e2e2e" color="#2e2e2e" text-anchor="middle" textLength="84" lengthAdjust="spacingAndGlyphs" transform="rotate(-90 128 398.9)">CD4<tspan font-size="4.0" dy="-2.0">+</tspan><tspan dy="2.0"> T cells [counts/mg] + SEM</tspan></text>
<line x1="149.4" y1="358" x2="149.4" y2="439.9" stroke="#151515" stroke-width="1.1"/>
<line x1="148.9" y1="439.5" x2="210" y2="439.5" stroke="#151515" stroke-width="1.1"/>
<line x1="146.6" y1="439.3" x2="149.4" y2="439.3" stroke="#222" stroke-width="0.9"/>
<text x="143.2" y="441.21" font-size="5.3" fill="#3c3c3c" color="#3c3c3c" text-anchor="end" textLength="2.85" lengthAdjust="spacingAndGlyphs">0</text>
<line x1="146.6" y1="419.5" x2="149.4" y2="419.5" stroke="#222" stroke-width="0.9"/>
<text x="143.2" y="421.41" font-size="5.3" fill="#3c3c3c" color="#3c3c3c" text-anchor="end" textLength="8.55" lengthAdjust="spacingAndGlyphs">200</text>
<line x1="146.6" y1="399.7" x2="149.4" y2="399.7" stroke="#222" stroke-width="0.9"/>
<text x="143.2" y="401.61" font-size="5.3" fill="#3c3c3c" color="#3c3c3c" text-anchor="end" textLength="8.55" lengthAdjust="spacingAndGlyphs">400</text>
<line x1="146.6" y1="379.9" x2="149.4" y2="379.9" stroke="#222" stroke-width="0.9"/>
<text x="143.2" y="381.81" font-size="5.3" fill="#3c3c3c" color="#3c3c3c" text-anchor="end" textLength="8.55" lengthAdjust="spacingAndGlyphs">600</text>
<line x1="146.6" y1="360.1" x2="149.4" y2="360.1" stroke="#222" stroke-width="0.9"/>
<text x="143.2" y="362.01" font-size="5.3" fill="#3c3c3c" color="#3c3c3c" text-anchor="end" textLength="8.55" lengthAdjust="spacingAndGlyphs">800</text>
<rect x="152.8" y="438.51" width="7.4" height="0.79" fill="#7c8aa8" stroke="#4a5a80" stroke-width="0.5"/>
<line x1="156.5" y1="439.3" x2="156.5" y2="441.9" stroke="#222" stroke-width="0.7"/>
<circle cx="155" cy="438.71" r="1.35" fill="#3d4c72"/>
<circle cx="156.5" cy="438.31" r="1.35" fill="#3d4c72"/>
<circle cx="158" cy="438.71" r="1.35" fill="#3d4c72"/>
<rect x="164.8" y="434.35" width="7.4" height="4.95" fill="#f9d77c" stroke="#f0b840" stroke-width="0.5"/>
<line x1="168.5" y1="439.3" x2="168.5" y2="441.9" stroke="#222" stroke-width="0.7"/>
<circle cx="166.5" cy="434.35" r="1.35" fill="#f5b820"/>
<circle cx="168.5" cy="433.86" r="1.35" fill="#f5b820"/>
<circle cx="170.5" cy="434.35" r="1.35" fill="#f5b820"/>
<circle cx="169.5" cy="434.85" r="1.35" fill="#f5b820"/>
<rect x="176.8" y="429.4" width="7.4" height="9.9" fill="#9fd6a0" stroke="#49a957" stroke-width="0.5"/>
<line x1="180.5" y1="439.3" x2="180.5" y2="441.9" stroke="#222" stroke-width="0.7"/>
<circle cx="178" cy="425.44" r="1.35" fill="#3aa84a"/>
<circle cx="182.5" cy="424.94" r="1.35" fill="#3aa84a"/>
<circle cx="180.5" cy="430.39" r="1.35" fill="#3aa84a"/>
<circle cx="179" cy="433.36" r="1.35" fill="#3aa84a"/>
<circle cx="182.5" cy="432.87" r="1.35" fill="#3aa84a"/>
<rect x="187.9" y="429.4" width="7.4" height="9.9" fill="#bda2d0" stroke="#6e4a90" stroke-width="0.5"/>
<line x1="191.6" y1="429.4" x2="191.6" y2="423.46" stroke="#6e4a90" stroke-width="0.65"/>
<line x1="190.2" y1="423.46" x2="193" y2="423.46" stroke="#6e4a90" stroke-width="0.65"/>
<line x1="191.6" y1="439.3" x2="191.6" y2="441.9" stroke="#222" stroke-width="0.7"/>
<circle cx="191.6" cy="413.06" r="1.35" fill="#3a1a5c"/>
<circle cx="190" cy="431.88" r="1.35" fill="#3a1a5c"/>
<circle cx="193.6" cy="434.35" r="1.35" fill="#3a1a5c"/>
<circle cx="191.6" cy="436.33" r="1.35" fill="#3a1a5c"/>
<rect x="199.4" y="407.62" width="7.4" height="31.68" fill="#84b0d8" stroke="#4a7aa8" stroke-width="0.5"/>
<line x1="203.1" y1="407.62" x2="203.1" y2="393.26" stroke="#4a7aa8" stroke-width="0.65"/>
<line x1="201.7" y1="393.26" x2="204.5" y2="393.26" stroke="#4a7aa8" stroke-width="0.65"/>
<line x1="203.1" y1="439.3" x2="203.1" y2="441.9" stroke="#222" stroke-width="0.7"/>
<circle cx="203.1" cy="366.54" r="1.35" fill="#163a6e"/>
<circle cx="203.1" cy="414.06" r="1.35" fill="#163a6e"/>
<circle cx="203.1" cy="422.47" r="1.35" fill="#163a6e"/>
<circle cx="203.1" cy="426.43" r="1.35" fill="#163a6e"/>
<line x1="157.4" y1="376.5" x2="202.7" y2="376.5" stroke="#777" stroke-width="0.6"/>
<text x="180.5" y="376.9" font-size="5" fill="#777" color="#777" text-anchor="middle">**</text>
<line x1="192" y1="382.2" x2="203.1" y2="382.2" stroke="#777" stroke-width="0.6"/>
<text x="198" y="382.6" font-size="5" fill="#777" color="#777" text-anchor="middle">*</text>
<circle cx="43.6" cy="452" r="1.2" fill="#2a3860"/>
<text x="48.2" y="453.87" font-size="5.2" fill="#2e2e2e" color="#2e2e2e" textLength="16.6" lengthAdjust="spacingAndGlyphs">vehicle</text>
<rect x="71.4" y="450" width="3.9" height="3.9" fill="#f8e7a0"/>
<circle cx="73.3" cy="452" r="1.2" fill="#d8b040"/>
<text x="78.2" y="453.87" font-size="5.2" fill="#2e2e2e" color="#2e2e2e" textLength="41.7" lengthAdjust="spacingAndGlyphs">Gpt + glofitamab</text>
<circle cx="124" cy="452" r="1.2" fill="#3aa84a"/>
<text x="129.2" y="453.87" font-size="5.2" fill="#2e2e2e" color="#2e2e2e" textLength="78.8" lengthAdjust="spacingAndGlyphs">Gpt + glofitamab + CD19-CD28</text>
<circle cx="43.6" cy="460.9" r="1.2" fill="#3a1a5c"/>
<text x="48.2" y="462.77" font-size="5.2" fill="#2e2e2e" color="#2e2e2e" textLength="81.8" lengthAdjust="spacingAndGlyphs">Gpt + glofitamab + CD19-4-1BBL</text>
<circle cx="43.6" cy="469.8" r="1.2" fill="#1d3f78"/>
<text x="48.2" y="471.67" font-size="5.2" fill="#2e2e2e" color="#2e2e2e" textLength="133.1" lengthAdjust="spacingAndGlyphs">Gpt + glofitamab + CD19-CD28 (once) + CD19-41BBL</text>
</svg>
</body></html>
